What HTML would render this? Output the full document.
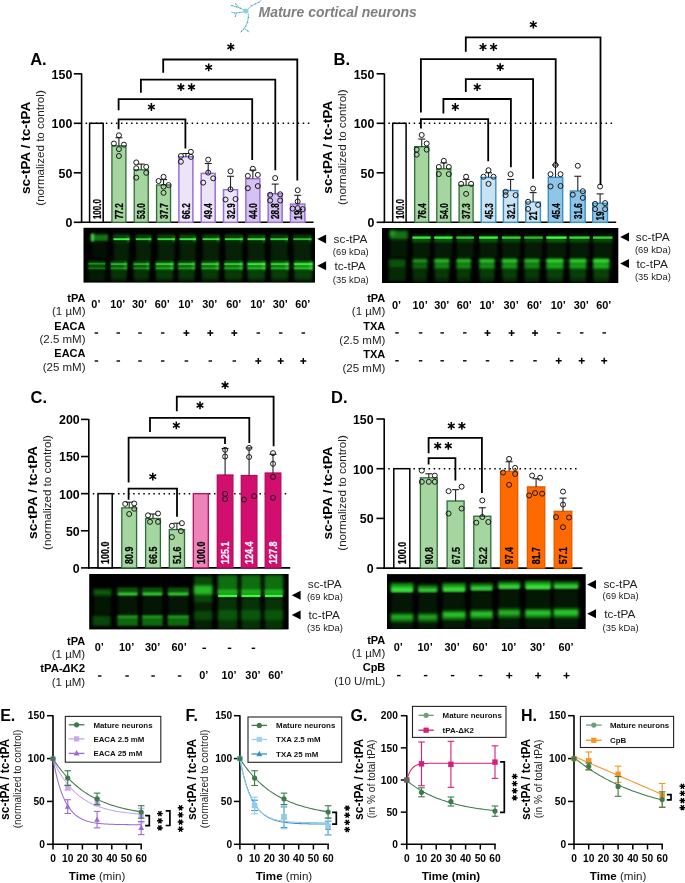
<!DOCTYPE html>
<html><head><meta charset="utf-8"><title>Figure</title>
<style>html,body{margin:0;padding:0;background:#fff;}body{width:685px;height:883px;overflow:hidden;}svg{display:block;font-family:"Liberation Sans",sans-serif;will-change:transform;}</style>
</head><body>
<svg width="685" height="883" viewBox="0 0 685 883">
<defs>
<filter id="b1" x="-50%" y="-50%" width="200%" height="200%"><feGaussianBlur stdDeviation="0.8"/></filter>
<filter id="b2" x="-50%" y="-50%" width="200%" height="200%"><feGaussianBlur stdDeviation="1.6"/></filter>
<filter id="b3" x="-50%" y="-50%" width="200%" height="200%"><feGaussianBlur stdDeviation="2.6"/></filter>
<filter id="b0" x="-50%" y="-50%" width="200%" height="200%"><feGaussianBlur stdDeviation="0.45"/></filter>
</defs>
<rect width="685" height="883" fill="#fff"/>
<g stroke="#78c0d6" fill="none" stroke-width="0.95" stroke-linecap="round"><path d="M248,9 Q251.5,5.5 255,4 Q258,3 260,1.5 Q262.5,0 261,-0.5"/><path d="M243.5,9.6 L239,7.6 L235,6.4 L231,5.3 M239,7.6 L235.6,3.6"/><path d="M243,12 L238.5,12.7 L235,13.1 L231.6,12.3 M236.6,13 L235.3,16.6"/><path d="M248.3,13.6 C248.6,19 247.6,23.5 244.3,28.3 L240.5,32.3 M244.3,28.3 L249,31.8"/></g>
<ellipse cx="245.8" cy="10.9" rx="2.7" ry="2.5" fill="#8ccfe0"/>
<circle cx="251.5" cy="5.6" r="0.65" fill="#4a9ec0"/>
<circle cx="255.3" cy="3.9" r="0.65" fill="#4a9ec0"/>
<circle cx="258.8" cy="2.3" r="0.65" fill="#4a9ec0"/>
<circle cx="240.3" cy="8.2" r="0.65" fill="#4a9ec0"/>
<circle cx="236.4" cy="6.8" r="0.65" fill="#4a9ec0"/>
<circle cx="235.7" cy="3.9" r="0.65" fill="#4a9ec0"/>
<circle cx="232" cy="5.6" r="0.65" fill="#4a9ec0"/>
<circle cx="239.5" cy="12.6" r="0.65" fill="#4a9ec0"/>
<circle cx="234.8" cy="13.1" r="0.65" fill="#4a9ec0"/>
<circle cx="235.4" cy="16.2" r="0.65" fill="#4a9ec0"/>
<circle cx="248.5" cy="17.5" r="0.65" fill="#4a9ec0"/>
<circle cx="247.7" cy="22.5" r="0.65" fill="#4a9ec0"/>
<circle cx="245.8" cy="26.2" r="0.65" fill="#4a9ec0"/>
<circle cx="243.6" cy="29.2" r="0.65" fill="#4a9ec0"/>
<circle cx="241.5" cy="31.2" r="0.65" fill="#4a9ec0"/>
<circle cx="247.6" cy="30.8" r="0.65" fill="#4a9ec0"/>
<text x="258.50" y="16.90" font-size="14" font-weight="bold" font-style="italic" fill="#808080" textLength="158.3" lengthAdjust="spacingAndGlyphs">Mature cortical neurons</text>
<line x1="81.60" y1="73.50" x2="81.60" y2="223.10" stroke="#000" stroke-width="1.6"/>
<line x1="80.80" y1="222.30" x2="313.60" y2="222.30" stroke="#000" stroke-width="1.6"/>
<line x1="73.80" y1="222.30" x2="81.60" y2="222.30" stroke="#000" stroke-width="1.6"/>
<text x="72.30" y="227.20" font-size="12.4" font-weight="bold" text-anchor="end">0</text>
<line x1="73.80" y1="172.80" x2="81.60" y2="172.80" stroke="#000" stroke-width="1.6"/>
<text x="72.30" y="177.70" font-size="12.4" font-weight="bold" text-anchor="end">50</text>
<line x1="73.80" y1="123.30" x2="81.60" y2="123.30" stroke="#000" stroke-width="1.6"/>
<text x="72.30" y="128.20" font-size="12.4" font-weight="bold" text-anchor="end">100</text>
<line x1="73.80" y1="73.80" x2="81.60" y2="73.80" stroke="#000" stroke-width="1.6"/>
<text x="72.30" y="78.70" font-size="12.4" font-weight="bold" text-anchor="end">150</text>
<line x1="85.60" y1="123.30" x2="310.60" y2="123.30" stroke="#000" stroke-width="1.5" stroke-dasharray="1.5 3.55" stroke-linecap="butt"/>
<rect x="89.60" y="123.30" width="13.60" height="99.00" fill="#ffffff" stroke="#000" stroke-width="1.5"/>
<rect x="111.92" y="145.87" width="14.00" height="76.43" fill="#a5d6a0" stroke="#2f6b3a" stroke-width="1.3"/>
<rect x="134.24" y="169.83" width="14.00" height="52.47" fill="#a5d6a0" stroke="#2f6b3a" stroke-width="1.3"/>
<rect x="156.56" y="184.98" width="14.00" height="37.32" fill="#a5d6a0" stroke="#2f6b3a" stroke-width="1.3"/>
<rect x="178.88" y="156.76" width="14.00" height="65.54" fill="#ece5f8" stroke="#9a6fd8" stroke-width="1.5"/>
<rect x="201.20" y="173.39" width="14.00" height="48.91" fill="#ece5f8" stroke="#9a6fd8" stroke-width="1.5"/>
<rect x="223.52" y="189.73" width="14.00" height="32.57" fill="#ece5f8" stroke="#9a6fd8" stroke-width="1.5"/>
<rect x="245.84" y="178.74" width="14.00" height="43.56" fill="#d4c2f0" stroke="#9a6fd8" stroke-width="1.5"/>
<rect x="268.16" y="193.79" width="14.00" height="28.51" fill="#d4c2f0" stroke="#9a6fd8" stroke-width="1.5"/>
<rect x="290.48" y="204.08" width="14.40" height="18.22" fill="#d4c2f0" stroke="#9a6fd8" stroke-width="1.5"/>
<line x1="118.92" y1="145.87" x2="118.92" y2="137.75" stroke="#222" stroke-width="1.1"/>
<line x1="115.42" y1="137.75" x2="122.42" y2="137.75" stroke="#222" stroke-width="1.1"/>
<circle cx="118.92" cy="135.28" r="2.5" fill="none" stroke="#1a1a1a" stroke-width="1.0"/>
<circle cx="113.92" cy="143.50" r="2.5" fill="none" stroke="#1a1a1a" stroke-width="1.0"/>
<circle cx="123.92" cy="144.68" r="2.5" fill="none" stroke="#1a1a1a" stroke-width="1.0"/>
<circle cx="118.92" cy="149.14" r="2.5" fill="none" stroke="#1a1a1a" stroke-width="1.0"/>
<circle cx="118.92" cy="155.97" r="2.5" fill="none" stroke="#1a1a1a" stroke-width="1.0"/>
<line x1="141.24" y1="169.83" x2="141.24" y2="164.09" stroke="#222" stroke-width="1.1"/>
<line x1="137.74" y1="164.09" x2="144.74" y2="164.09" stroke="#222" stroke-width="1.1"/>
<circle cx="136.24" cy="162.41" r="2.5" fill="none" stroke="#1a1a1a" stroke-width="1.0"/>
<circle cx="136.24" cy="168.25" r="2.5" fill="none" stroke="#1a1a1a" stroke-width="1.0"/>
<circle cx="146.24" cy="166.86" r="2.5" fill="none" stroke="#1a1a1a" stroke-width="1.0"/>
<circle cx="146.24" cy="172.80" r="2.5" fill="none" stroke="#1a1a1a" stroke-width="1.0"/>
<circle cx="136.24" cy="177.65" r="2.5" fill="none" stroke="#1a1a1a" stroke-width="1.0"/>
<line x1="163.56" y1="184.98" x2="163.56" y2="179.53" stroke="#222" stroke-width="1.1"/>
<line x1="160.06" y1="179.53" x2="167.06" y2="179.53" stroke="#222" stroke-width="1.1"/>
<circle cx="163.56" cy="176.86" r="2.5" fill="none" stroke="#1a1a1a" stroke-width="1.0"/>
<circle cx="158.56" cy="181.02" r="2.5" fill="none" stroke="#1a1a1a" stroke-width="1.0"/>
<circle cx="168.56" cy="185.08" r="2.5" fill="none" stroke="#1a1a1a" stroke-width="1.0"/>
<circle cx="163.56" cy="186.66" r="2.5" fill="none" stroke="#1a1a1a" stroke-width="1.0"/>
<circle cx="163.56" cy="192.80" r="2.5" fill="none" stroke="#1a1a1a" stroke-width="1.0"/>
<line x1="185.88" y1="156.76" x2="185.88" y2="153.50" stroke="#222" stroke-width="1.1"/>
<line x1="182.38" y1="153.50" x2="189.38" y2="153.50" stroke="#222" stroke-width="1.1"/>
<circle cx="180.88" cy="155.97" r="2.5" fill="none" stroke="#1a1a1a" stroke-width="1.0"/>
<circle cx="190.88" cy="151.81" r="2.5" fill="none" stroke="#1a1a1a" stroke-width="1.0"/>
<circle cx="190.88" cy="156.86" r="2.5" fill="none" stroke="#1a1a1a" stroke-width="1.0"/>
<circle cx="180.88" cy="161.71" r="2.5" fill="none" stroke="#1a1a1a" stroke-width="1.0"/>
<line x1="208.20" y1="173.39" x2="208.20" y2="163.49" stroke="#222" stroke-width="1.1"/>
<line x1="204.70" y1="163.49" x2="211.70" y2="163.49" stroke="#222" stroke-width="1.1"/>
<circle cx="208.20" cy="159.63" r="2.5" fill="none" stroke="#1a1a1a" stroke-width="1.0"/>
<circle cx="208.20" cy="172.60" r="2.5" fill="none" stroke="#1a1a1a" stroke-width="1.0"/>
<circle cx="213.20" cy="178.34" r="2.5" fill="none" stroke="#1a1a1a" stroke-width="1.0"/>
<circle cx="203.20" cy="182.60" r="2.5" fill="none" stroke="#1a1a1a" stroke-width="1.0"/>
<line x1="230.52" y1="189.73" x2="230.52" y2="176.27" stroke="#222" stroke-width="1.1"/>
<line x1="227.02" y1="176.27" x2="234.02" y2="176.27" stroke="#222" stroke-width="1.1"/>
<circle cx="230.52" cy="171.22" r="2.5" fill="none" stroke="#1a1a1a" stroke-width="1.0"/>
<circle cx="230.52" cy="189.33" r="2.5" fill="none" stroke="#1a1a1a" stroke-width="1.0"/>
<circle cx="225.52" cy="199.53" r="2.5" fill="none" stroke="#1a1a1a" stroke-width="1.0"/>
<circle cx="235.52" cy="199.04" r="2.5" fill="none" stroke="#1a1a1a" stroke-width="1.0"/>
<line x1="252.84" y1="178.74" x2="252.84" y2="170.13" stroke="#222" stroke-width="1.1"/>
<line x1="249.34" y1="170.13" x2="256.34" y2="170.13" stroke="#222" stroke-width="1.1"/>
<circle cx="252.84" cy="168.74" r="2.5" fill="none" stroke="#1a1a1a" stroke-width="1.0"/>
<circle cx="247.84" cy="175.87" r="2.5" fill="none" stroke="#1a1a1a" stroke-width="1.0"/>
<circle cx="257.84" cy="174.88" r="2.5" fill="none" stroke="#1a1a1a" stroke-width="1.0"/>
<circle cx="247.84" cy="188.24" r="2.5" fill="none" stroke="#1a1a1a" stroke-width="1.0"/>
<circle cx="257.84" cy="186.07" r="2.5" fill="none" stroke="#1a1a1a" stroke-width="1.0"/>
<line x1="275.16" y1="193.79" x2="275.16" y2="184.09" stroke="#222" stroke-width="1.1"/>
<line x1="271.66" y1="184.09" x2="278.66" y2="184.09" stroke="#222" stroke-width="1.1"/>
<circle cx="275.16" cy="178.05" r="2.5" fill="none" stroke="#1a1a1a" stroke-width="1.0"/>
<circle cx="270.16" cy="194.78" r="2.5" fill="none" stroke="#1a1a1a" stroke-width="1.0"/>
<circle cx="280.16" cy="194.28" r="2.5" fill="none" stroke="#1a1a1a" stroke-width="1.0"/>
<circle cx="270.16" cy="200.52" r="2.5" fill="none" stroke="#1a1a1a" stroke-width="1.0"/>
<circle cx="280.16" cy="200.52" r="2.5" fill="none" stroke="#1a1a1a" stroke-width="1.0"/>
<line x1="297.68" y1="204.08" x2="297.68" y2="195.27" stroke="#222" stroke-width="1.1"/>
<line x1="294.18" y1="195.27" x2="301.18" y2="195.27" stroke="#222" stroke-width="1.1"/>
<circle cx="297.68" cy="190.22" r="2.5" fill="none" stroke="#1a1a1a" stroke-width="1.0"/>
<circle cx="297.68" cy="201.51" r="2.5" fill="none" stroke="#1a1a1a" stroke-width="1.0"/>
<circle cx="292.68" cy="208.64" r="2.5" fill="none" stroke="#1a1a1a" stroke-width="1.0"/>
<circle cx="297.68" cy="208.14" r="2.5" fill="none" stroke="#1a1a1a" stroke-width="1.0"/>
<circle cx="302.68" cy="209.13" r="2.5" fill="none" stroke="#1a1a1a" stroke-width="1.0"/>
<text x="0" y="0" font-size="11.2" font-weight="bold" textLength="19.9" lengthAdjust="spacingAndGlyphs" transform="translate(100.50,219.10) rotate(-90)" stroke="#000" stroke-width="0.25">100.0</text>
<text x="0" y="0" font-size="11.2" font-weight="bold" textLength="15.8" lengthAdjust="spacingAndGlyphs" transform="translate(123.02,219.10) rotate(-90)" stroke="#000" stroke-width="0.25">77.2</text>
<text x="0" y="0" font-size="11.2" font-weight="bold" textLength="15.8" lengthAdjust="spacingAndGlyphs" transform="translate(145.34,219.10) rotate(-90)" stroke="#000" stroke-width="0.25">53.0</text>
<text x="0" y="0" font-size="11.2" font-weight="bold" textLength="15.8" lengthAdjust="spacingAndGlyphs" transform="translate(167.66,219.10) rotate(-90)" stroke="#000" stroke-width="0.25">37.7</text>
<text x="0" y="0" font-size="11.2" font-weight="bold" textLength="15.8" lengthAdjust="spacingAndGlyphs" transform="translate(189.98,219.10) rotate(-90)" stroke="#000" stroke-width="0.25">66.2</text>
<text x="0" y="0" font-size="11.2" font-weight="bold" textLength="15.8" lengthAdjust="spacingAndGlyphs" transform="translate(212.30,219.10) rotate(-90)" stroke="#000" stroke-width="0.25">49.4</text>
<text x="0" y="0" font-size="11.2" font-weight="bold" textLength="15.8" lengthAdjust="spacingAndGlyphs" transform="translate(234.62,219.10) rotate(-90)" stroke="#000" stroke-width="0.25">32.9</text>
<text x="0" y="0" font-size="11.2" font-weight="bold" textLength="15.8" lengthAdjust="spacingAndGlyphs" transform="translate(256.94,219.10) rotate(-90)" stroke="#000" stroke-width="0.25">44.0</text>
<text x="0" y="0" font-size="11.2" font-weight="bold" textLength="15.8" lengthAdjust="spacingAndGlyphs" transform="translate(279.26,219.10) rotate(-90)" stroke="#000" stroke-width="0.25">28.8</text>
<text x="0" y="0" font-size="11.2" font-weight="bold" textLength="11.6" lengthAdjust="spacingAndGlyphs" transform="translate(301.78,219.70) rotate(-90)" stroke="#000" stroke-width="0.25">19.</text>
<polyline points="118.60,129.30 118.60,119.30 185.40,119.30 185.40,148.50" fill="none" stroke="#000" stroke-width="1.8"/>
<path d="M151.40,103.10L151.40,110.90 M148.02,105.05L154.78,108.95 M148.02,108.95L154.78,105.05" stroke="#000" stroke-width="1.55" stroke-linecap="butt" fill="none"/>
<polyline points="118.60,110.30 118.60,99.10 252.20,99.10 252.20,160.10" fill="none" stroke="#000" stroke-width="1.8"/>
<path d="M180.90,83.30L180.90,91.10 M177.52,85.25L184.28,89.15 M177.52,89.15L184.28,85.25" stroke="#000" stroke-width="1.55" stroke-linecap="butt" fill="none"/>
<path d="M191.50,83.30L191.50,91.10 M188.12,85.25L194.88,89.15 M188.12,89.15L194.88,85.25" stroke="#000" stroke-width="1.55" stroke-linecap="butt" fill="none"/>
<polyline points="140.90,92.70 140.90,79.70 275.30,79.70 275.30,170.30" fill="none" stroke="#000" stroke-width="1.8"/>
<path d="M208.70,63.50L208.70,71.30 M205.32,65.45L212.08,69.35 M205.32,69.35L212.08,65.45" stroke="#000" stroke-width="1.55" stroke-linecap="butt" fill="none"/>
<polyline points="163.20,72.80 163.20,59.50 297.30,59.50 297.30,180.50" fill="none" stroke="#000" stroke-width="1.8"/>
<path d="M230.80,42.90L230.80,50.70 M227.42,44.85L234.18,48.75 M227.42,48.75L234.18,44.85" stroke="#000" stroke-width="1.55" stroke-linecap="butt" fill="none"/>
<text x="30.20" y="65.20" font-size="16.5" font-weight="bold">A.</text>
<text x="0" y="0" font-size="13.7" font-weight="bold" text-anchor="middle" textLength="92.4" lengthAdjust="spacingAndGlyphs" transform="translate(29.60,147.90) rotate(-90)">sc-tPA / tc-tPA</text>
<text x="0" y="0" font-size="11.4" text-anchor="middle" fill="#222" textLength="115.5" lengthAdjust="spacingAndGlyphs" transform="translate(43.90,148.00) rotate(-90)">(normalized to control)</text>
<line x1="384.40" y1="73.50" x2="384.40" y2="223.10" stroke="#000" stroke-width="1.6"/>
<line x1="383.60" y1="222.30" x2="616.20" y2="222.30" stroke="#000" stroke-width="1.6"/>
<line x1="376.60" y1="222.30" x2="384.40" y2="222.30" stroke="#000" stroke-width="1.6"/>
<text x="374.40" y="227.20" font-size="12.4" font-weight="bold" text-anchor="end">0</text>
<line x1="376.60" y1="172.80" x2="384.40" y2="172.80" stroke="#000" stroke-width="1.6"/>
<text x="374.40" y="177.70" font-size="12.4" font-weight="bold" text-anchor="end">50</text>
<line x1="376.60" y1="123.30" x2="384.40" y2="123.30" stroke="#000" stroke-width="1.6"/>
<text x="374.40" y="128.20" font-size="12.4" font-weight="bold" text-anchor="end">100</text>
<line x1="376.60" y1="73.80" x2="384.40" y2="73.80" stroke="#000" stroke-width="1.6"/>
<text x="374.40" y="78.70" font-size="12.4" font-weight="bold" text-anchor="end">150</text>
<line x1="388.40" y1="123.30" x2="613.20" y2="123.30" stroke="#000" stroke-width="1.5" stroke-dasharray="1.5 3.55" stroke-linecap="butt"/>
<rect x="392.70" y="123.30" width="13.40" height="99.00" fill="#ffffff" stroke="#000" stroke-width="1.5"/>
<rect x="414.70" y="146.66" width="14.00" height="75.64" fill="#a5d6a0" stroke="#2f6b3a" stroke-width="1.3"/>
<rect x="436.80" y="168.84" width="14.00" height="53.46" fill="#a5d6a0" stroke="#2f6b3a" stroke-width="1.3"/>
<rect x="459.10" y="185.37" width="14.00" height="36.93" fill="#a5d6a0" stroke="#2f6b3a" stroke-width="1.3"/>
<rect x="481.20" y="177.45" width="14.60" height="44.85" fill="#c8e3f4" stroke="#3b8fc9" stroke-width="1.4"/>
<rect x="503.40" y="190.52" width="14.40" height="31.78" fill="#c8e3f4" stroke="#3b8fc9" stroke-width="1.4"/>
<rect x="525.80" y="202.01" width="14.60" height="20.29" fill="#c8e3f4" stroke="#3b8fc9" stroke-width="1.4"/>
<rect x="548.30" y="177.35" width="14.40" height="44.95" fill="#8fc6e8" stroke="#3b8fc9" stroke-width="1.4"/>
<rect x="570.40" y="191.02" width="14.80" height="31.28" fill="#8fc6e8" stroke="#3b8fc9" stroke-width="1.4"/>
<rect x="592.70" y="203.29" width="14.80" height="19.01" fill="#8fc6e8" stroke="#3b8fc9" stroke-width="1.4"/>
<line x1="421.70" y1="146.66" x2="421.70" y2="139.04" stroke="#222" stroke-width="1.1"/>
<line x1="418.20" y1="139.04" x2="425.20" y2="139.04" stroke="#222" stroke-width="1.1"/>
<circle cx="421.70" cy="134.98" r="2.5" fill="none" stroke="#1a1a1a" stroke-width="1.0"/>
<circle cx="426.70" cy="143.50" r="2.5" fill="none" stroke="#1a1a1a" stroke-width="1.0"/>
<circle cx="416.70" cy="149.63" r="2.5" fill="none" stroke="#1a1a1a" stroke-width="1.0"/>
<circle cx="426.70" cy="149.63" r="2.5" fill="none" stroke="#1a1a1a" stroke-width="1.0"/>
<circle cx="416.70" cy="154.68" r="2.5" fill="none" stroke="#1a1a1a" stroke-width="1.0"/>
<line x1="443.80" y1="168.84" x2="443.80" y2="162.90" stroke="#222" stroke-width="1.1"/>
<line x1="440.30" y1="162.90" x2="447.30" y2="162.90" stroke="#222" stroke-width="1.1"/>
<circle cx="443.80" cy="160.82" r="2.5" fill="none" stroke="#1a1a1a" stroke-width="1.0"/>
<circle cx="438.80" cy="166.96" r="2.5" fill="none" stroke="#1a1a1a" stroke-width="1.0"/>
<circle cx="448.80" cy="166.96" r="2.5" fill="none" stroke="#1a1a1a" stroke-width="1.0"/>
<circle cx="438.80" cy="174.09" r="2.5" fill="none" stroke="#1a1a1a" stroke-width="1.0"/>
<circle cx="448.80" cy="174.09" r="2.5" fill="none" stroke="#1a1a1a" stroke-width="1.0"/>
<line x1="466.10" y1="185.37" x2="466.10" y2="179.43" stroke="#222" stroke-width="1.1"/>
<line x1="462.60" y1="179.43" x2="469.60" y2="179.43" stroke="#222" stroke-width="1.1"/>
<circle cx="466.10" cy="176.76" r="2.5" fill="none" stroke="#1a1a1a" stroke-width="1.0"/>
<circle cx="461.10" cy="183.89" r="2.5" fill="none" stroke="#1a1a1a" stroke-width="1.0"/>
<circle cx="471.10" cy="183.89" r="2.5" fill="none" stroke="#1a1a1a" stroke-width="1.0"/>
<circle cx="466.10" cy="193.89" r="2.5" fill="none" stroke="#1a1a1a" stroke-width="1.0"/>
<line x1="488.50" y1="177.45" x2="488.50" y2="172.80" stroke="#222" stroke-width="1.1"/>
<line x1="485.00" y1="172.80" x2="492.00" y2="172.80" stroke="#222" stroke-width="1.1"/>
<circle cx="488.50" cy="170.23" r="2.5" fill="none" stroke="#1a1a1a" stroke-width="1.0"/>
<circle cx="483.50" cy="176.76" r="2.5" fill="none" stroke="#1a1a1a" stroke-width="1.0"/>
<circle cx="493.50" cy="176.76" r="2.5" fill="none" stroke="#1a1a1a" stroke-width="1.0"/>
<circle cx="488.50" cy="183.89" r="2.5" fill="none" stroke="#1a1a1a" stroke-width="1.0"/>
<line x1="510.60" y1="190.52" x2="510.60" y2="179.43" stroke="#222" stroke-width="1.1"/>
<line x1="507.10" y1="179.43" x2="514.10" y2="179.43" stroke="#222" stroke-width="1.1"/>
<circle cx="510.60" cy="174.19" r="2.5" fill="none" stroke="#1a1a1a" stroke-width="1.0"/>
<circle cx="505.60" cy="195.17" r="2.5" fill="none" stroke="#1a1a1a" stroke-width="1.0"/>
<circle cx="515.60" cy="195.17" r="2.5" fill="none" stroke="#1a1a1a" stroke-width="1.0"/>
<circle cx="505.60" cy="191.81" r="2.5" fill="none" stroke="#1a1a1a" stroke-width="1.0"/>
<line x1="533.10" y1="202.01" x2="533.10" y2="192.60" stroke="#222" stroke-width="1.1"/>
<line x1="529.60" y1="192.60" x2="536.60" y2="192.60" stroke="#222" stroke-width="1.1"/>
<circle cx="533.10" cy="188.64" r="2.5" fill="none" stroke="#1a1a1a" stroke-width="1.0"/>
<circle cx="528.10" cy="201.81" r="2.5" fill="none" stroke="#1a1a1a" stroke-width="1.0"/>
<circle cx="538.10" cy="204.88" r="2.5" fill="none" stroke="#1a1a1a" stroke-width="1.0"/>
<circle cx="528.10" cy="208.94" r="2.5" fill="none" stroke="#1a1a1a" stroke-width="1.0"/>
<line x1="555.50" y1="177.35" x2="555.50" y2="164.98" stroke="#222" stroke-width="1.1"/>
<line x1="552.00" y1="164.98" x2="559.00" y2="164.98" stroke="#222" stroke-width="1.1"/>
<circle cx="555.50" cy="164.98" r="2.5" fill="none" stroke="#1a1a1a" stroke-width="1.0"/>
<circle cx="550.50" cy="174.19" r="2.5" fill="none" stroke="#1a1a1a" stroke-width="1.0"/>
<circle cx="560.50" cy="174.19" r="2.5" fill="none" stroke="#1a1a1a" stroke-width="1.0"/>
<circle cx="550.50" cy="186.46" r="2.5" fill="none" stroke="#1a1a1a" stroke-width="1.0"/>
<circle cx="560.50" cy="185.97" r="2.5" fill="none" stroke="#1a1a1a" stroke-width="1.0"/>
<line x1="577.80" y1="191.02" x2="577.80" y2="176.27" stroke="#222" stroke-width="1.1"/>
<line x1="574.30" y1="176.27" x2="581.30" y2="176.27" stroke="#222" stroke-width="1.1"/>
<circle cx="577.80" cy="165.77" r="2.5" fill="none" stroke="#1a1a1a" stroke-width="1.0"/>
<circle cx="572.80" cy="194.68" r="2.5" fill="none" stroke="#1a1a1a" stroke-width="1.0"/>
<circle cx="582.80" cy="191.21" r="2.5" fill="none" stroke="#1a1a1a" stroke-width="1.0"/>
<circle cx="582.80" cy="197.85" r="2.5" fill="none" stroke="#1a1a1a" stroke-width="1.0"/>
<line x1="600.10" y1="203.29" x2="600.10" y2="193.89" stroke="#222" stroke-width="1.1"/>
<line x1="596.60" y1="193.89" x2="603.60" y2="193.89" stroke="#222" stroke-width="1.1"/>
<circle cx="600.10" cy="186.46" r="2.5" fill="none" stroke="#1a1a1a" stroke-width="1.0"/>
<circle cx="595.10" cy="203.89" r="2.5" fill="none" stroke="#1a1a1a" stroke-width="1.0"/>
<circle cx="605.10" cy="203.09" r="2.5" fill="none" stroke="#1a1a1a" stroke-width="1.0"/>
<circle cx="595.10" cy="209.13" r="2.5" fill="none" stroke="#1a1a1a" stroke-width="1.0"/>
<circle cx="605.10" cy="209.13" r="2.5" fill="none" stroke="#1a1a1a" stroke-width="1.0"/>
<text x="0" y="0" font-size="11.2" font-weight="bold" textLength="19.9" lengthAdjust="spacingAndGlyphs" transform="translate(403.50,219.10) rotate(-90)" stroke="#000" stroke-width="0.25">100.0</text>
<text x="0" y="0" font-size="11.2" font-weight="bold" textLength="15.8" lengthAdjust="spacingAndGlyphs" transform="translate(425.80,219.10) rotate(-90)" stroke="#000" stroke-width="0.25">76.4</text>
<text x="0" y="0" font-size="11.2" font-weight="bold" textLength="15.8" lengthAdjust="spacingAndGlyphs" transform="translate(447.90,219.10) rotate(-90)" stroke="#000" stroke-width="0.25">54.0</text>
<text x="0" y="0" font-size="11.2" font-weight="bold" textLength="15.8" lengthAdjust="spacingAndGlyphs" transform="translate(470.20,219.10) rotate(-90)" stroke="#000" stroke-width="0.25">37.3</text>
<text x="0" y="0" font-size="11.2" font-weight="bold" textLength="15.8" lengthAdjust="spacingAndGlyphs" transform="translate(492.60,219.10) rotate(-90)" stroke="#000" stroke-width="0.25">45.3</text>
<text x="0" y="0" font-size="11.2" font-weight="bold" textLength="15.8" lengthAdjust="spacingAndGlyphs" transform="translate(514.70,219.10) rotate(-90)" stroke="#000" stroke-width="0.25">32.1</text>
<text x="0" y="0" font-size="11.2" font-weight="bold" textLength="9.2" lengthAdjust="spacingAndGlyphs" transform="translate(537.20,220.30) rotate(-90)" stroke="#000" stroke-width="0.25">21</text>
<text x="0" y="0" font-size="11.2" font-weight="bold" textLength="15.8" lengthAdjust="spacingAndGlyphs" transform="translate(559.60,219.10) rotate(-90)" stroke="#000" stroke-width="0.25">45.4</text>
<text x="0" y="0" font-size="11.2" font-weight="bold" textLength="15.8" lengthAdjust="spacingAndGlyphs" transform="translate(581.90,219.10) rotate(-90)" stroke="#000" stroke-width="0.25">31.6</text>
<text x="0" y="0" font-size="11.2" font-weight="bold" textLength="9.2" lengthAdjust="spacingAndGlyphs" transform="translate(604.20,220.50) rotate(-90)" stroke="#000" stroke-width="0.25">19</text>
<polyline points="420.90,128.40 420.90,119.20 488.20,119.20 488.20,161.20" fill="none" stroke="#000" stroke-width="1.8"/>
<path d="M455.30,103.10L455.30,110.90 M451.92,105.05L458.68,108.95 M451.92,108.95L458.68,105.05" stroke="#000" stroke-width="1.55" stroke-linecap="butt" fill="none"/>
<polyline points="443.40,113.50 443.40,99.00 510.90,99.00 510.90,167.30" fill="none" stroke="#000" stroke-width="1.8"/>
<path d="M477.20,83.20L477.20,91.00 M473.82,85.15L480.58,89.05 M473.82,89.05L480.58,85.15" stroke="#000" stroke-width="1.55" stroke-linecap="butt" fill="none"/>
<polyline points="465.80,91.90 465.80,79.10 533.10,79.10 533.10,178.80" fill="none" stroke="#000" stroke-width="1.8"/>
<path d="M500.20,63.30L500.20,71.10 M496.82,65.25L503.58,69.15 M496.82,69.15L503.58,65.25" stroke="#000" stroke-width="1.55" stroke-linecap="butt" fill="none"/>
<polyline points="420.90,112.60 420.90,59.20 555.70,59.20 555.70,163.90" fill="none" stroke="#000" stroke-width="1.8"/>
<path d="M483.00,43.10L483.00,50.90 M479.62,45.05L486.38,48.95 M479.62,48.95L486.38,45.05" stroke="#000" stroke-width="1.55" stroke-linecap="butt" fill="none"/>
<path d="M493.60,43.10L493.60,50.90 M490.22,45.05L496.98,48.95 M490.22,48.95L496.98,45.05" stroke="#000" stroke-width="1.55" stroke-linecap="butt" fill="none"/>
<polyline points="465.80,51.80 465.80,37.30 600.50,37.30 600.50,184.90" fill="none" stroke="#000" stroke-width="1.8"/>
<path d="M533.30,20.70L533.30,28.50 M529.92,22.65L536.68,26.55 M529.92,26.55L536.68,22.65" stroke="#000" stroke-width="1.55" stroke-linecap="butt" fill="none"/>
<text x="333.60" y="65.00" font-size="16.5" font-weight="bold">B.</text>
<text x="0" y="0" font-size="13.7" font-weight="bold" text-anchor="middle" textLength="93.0" lengthAdjust="spacingAndGlyphs" transform="translate(332.10,147.20) rotate(-90)">sc-tPA / tc-tPA</text>
<text x="0" y="0" font-size="11.4" text-anchor="middle" fill="#222" textLength="115.5" lengthAdjust="spacingAndGlyphs" transform="translate(346.00,147.20) rotate(-90)">(normalized to control)</text>
<line x1="88.80" y1="418.90" x2="88.80" y2="568.70" stroke="#000" stroke-width="1.6"/>
<line x1="88.00" y1="567.90" x2="290.20" y2="567.90" stroke="#000" stroke-width="1.6"/>
<line x1="81.00" y1="567.90" x2="88.80" y2="567.90" stroke="#000" stroke-width="1.6"/>
<text x="79.70" y="572.80" font-size="12.4" font-weight="bold" text-anchor="end">0</text>
<line x1="81.00" y1="530.77" x2="88.80" y2="530.77" stroke="#000" stroke-width="1.6"/>
<text x="79.70" y="535.67" font-size="12.4" font-weight="bold" text-anchor="end">50</text>
<line x1="81.00" y1="493.65" x2="88.80" y2="493.65" stroke="#000" stroke-width="1.6"/>
<text x="79.70" y="498.55" font-size="12.4" font-weight="bold" text-anchor="end">100</text>
<line x1="81.00" y1="456.52" x2="88.80" y2="456.52" stroke="#000" stroke-width="1.6"/>
<text x="79.70" y="461.42" font-size="12.4" font-weight="bold" text-anchor="end">150</text>
<line x1="81.00" y1="419.40" x2="88.80" y2="419.40" stroke="#000" stroke-width="1.6"/>
<text x="79.70" y="424.30" font-size="12.4" font-weight="bold" text-anchor="end">200</text>
<line x1="92.80" y1="493.65" x2="287.20" y2="493.65" stroke="#000" stroke-width="1.5" stroke-dasharray="1.5 3.55" stroke-linecap="butt"/>
<rect x="98.00" y="493.65" width="14.20" height="74.25" fill="#ffffff" stroke="#000" stroke-width="1.5"/>
<rect x="121.80" y="507.83" width="14.80" height="60.07" fill="#a5d6a0" stroke="#2f6b3a" stroke-width="1.3"/>
<rect x="145.60" y="518.52" width="14.80" height="49.38" fill="#a5d6a0" stroke="#2f6b3a" stroke-width="1.3"/>
<rect x="169.30" y="529.59" width="15.20" height="38.31" fill="#a5d6a0" stroke="#2f6b3a" stroke-width="1.3"/>
<rect x="193.30" y="493.65" width="15.00" height="74.25" fill="#ec84b9" stroke="#b8105f" stroke-width="1.3"/>
<rect x="217.30" y="475.01" width="15.60" height="92.89" fill="#d20f6f" stroke="#b00d5c" stroke-width="1.3"/>
<rect x="241.30" y="475.53" width="15.60" height="92.37" fill="#d20f6f" stroke="#b00d5c" stroke-width="1.3"/>
<rect x="265.20" y="473.01" width="15.60" height="94.89" fill="#d20f6f" stroke="#b00d5c" stroke-width="1.3"/>
<line x1="129.20" y1="507.83" x2="129.20" y2="502.19" stroke="#222" stroke-width="1.1"/>
<line x1="125.70" y1="502.19" x2="132.70" y2="502.19" stroke="#222" stroke-width="1.1"/>
<circle cx="125.20" cy="503.90" r="2.5" fill="none" stroke="#1a1a1a" stroke-width="1.0"/>
<circle cx="134.20" cy="503.53" r="2.5" fill="none" stroke="#1a1a1a" stroke-width="1.0"/>
<circle cx="134.20" cy="508.72" r="2.5" fill="none" stroke="#1a1a1a" stroke-width="1.0"/>
<circle cx="129.20" cy="513.99" r="2.5" fill="none" stroke="#1a1a1a" stroke-width="1.0"/>
<line x1="153.00" y1="518.52" x2="153.00" y2="513.99" stroke="#222" stroke-width="1.1"/>
<line x1="149.50" y1="513.99" x2="156.50" y2="513.99" stroke="#222" stroke-width="1.1"/>
<circle cx="148.00" cy="515.33" r="2.5" fill="none" stroke="#1a1a1a" stroke-width="1.0"/>
<circle cx="158.00" cy="513.47" r="2.5" fill="none" stroke="#1a1a1a" stroke-width="1.0"/>
<circle cx="158.00" cy="521.87" r="2.5" fill="none" stroke="#1a1a1a" stroke-width="1.0"/>
<circle cx="150.00" cy="521.87" r="2.5" fill="none" stroke="#1a1a1a" stroke-width="1.0"/>
<line x1="176.90" y1="529.59" x2="176.90" y2="523.20" stroke="#222" stroke-width="1.1"/>
<line x1="173.40" y1="523.20" x2="180.40" y2="523.20" stroke="#222" stroke-width="1.1"/>
<circle cx="171.90" cy="525.80" r="2.5" fill="none" stroke="#1a1a1a" stroke-width="1.0"/>
<circle cx="181.90" cy="523.20" r="2.5" fill="none" stroke="#1a1a1a" stroke-width="1.0"/>
<circle cx="171.90" cy="537.09" r="2.5" fill="none" stroke="#1a1a1a" stroke-width="1.0"/>
<circle cx="180.90" cy="531.07" r="2.5" fill="none" stroke="#1a1a1a" stroke-width="1.0"/>
<line x1="225.10" y1="475.01" x2="225.10" y2="448.58" stroke="#222" stroke-width="1.1"/>
<line x1="221.60" y1="448.58" x2="228.60" y2="448.58" stroke="#222" stroke-width="1.1"/>
<circle cx="225.10" cy="449.84" r="2.5" fill="none" stroke="#1a1a1a" stroke-width="1.0"/>
<circle cx="225.10" cy="456.52" r="2.5" fill="none" stroke="#1a1a1a" stroke-width="1.0"/>
<circle cx="225.10" cy="493.87" r="2.5" fill="none" stroke="#1a1a1a" stroke-width="1.0"/>
<circle cx="225.10" cy="499.07" r="2.5" fill="none" stroke="#1a1a1a" stroke-width="1.0"/>
<line x1="249.10" y1="475.53" x2="249.10" y2="447.91" stroke="#222" stroke-width="1.1"/>
<line x1="245.60" y1="447.91" x2="252.60" y2="447.91" stroke="#222" stroke-width="1.1"/>
<circle cx="249.10" cy="447.91" r="2.5" fill="none" stroke="#1a1a1a" stroke-width="1.0"/>
<circle cx="249.10" cy="456.97" r="2.5" fill="none" stroke="#1a1a1a" stroke-width="1.0"/>
<circle cx="244.10" cy="499.59" r="2.5" fill="none" stroke="#1a1a1a" stroke-width="1.0"/>
<circle cx="254.10" cy="496.17" r="2.5" fill="none" stroke="#1a1a1a" stroke-width="1.0"/>
<line x1="273.00" y1="473.01" x2="273.00" y2="454.30" stroke="#222" stroke-width="1.1"/>
<line x1="269.50" y1="454.30" x2="276.50" y2="454.30" stroke="#222" stroke-width="1.1"/>
<circle cx="273.00" cy="453.11" r="2.5" fill="none" stroke="#1a1a1a" stroke-width="1.0"/>
<circle cx="273.00" cy="463.80" r="2.5" fill="none" stroke="#1a1a1a" stroke-width="1.0"/>
<circle cx="273.00" cy="476.87" r="2.5" fill="none" stroke="#1a1a1a" stroke-width="1.0"/>
<circle cx="273.00" cy="497.81" r="2.5" fill="none" stroke="#1a1a1a" stroke-width="1.0"/>
<text x="0" y="0" font-size="11.4" font-weight="bold" textLength="22.4" lengthAdjust="spacingAndGlyphs" transform="translate(109.30,563.90) rotate(-90)" stroke="#000" stroke-width="0.25">100.0</text>
<text x="0" y="0" font-size="11.4" font-weight="bold" textLength="17.2" lengthAdjust="spacingAndGlyphs" transform="translate(133.40,563.90) rotate(-90)" stroke="#000" stroke-width="0.25">80.9</text>
<text x="0" y="0" font-size="11.4" font-weight="bold" textLength="17.2" lengthAdjust="spacingAndGlyphs" transform="translate(157.20,563.90) rotate(-90)" stroke="#000" stroke-width="0.25">66.5</text>
<text x="0" y="0" font-size="11.4" font-weight="bold" textLength="17.2" lengthAdjust="spacingAndGlyphs" transform="translate(181.10,563.90) rotate(-90)" stroke="#000" stroke-width="0.25">51.6</text>
<text x="0" y="0" font-size="11.4" font-weight="bold" textLength="22.4" lengthAdjust="spacingAndGlyphs" transform="translate(205.00,563.90) rotate(-90)" stroke="#000" stroke-width="0.25">100.0</text>
<text x="0" y="0" font-size="11.4" font-weight="bold" fill="#fff" textLength="22.4" lengthAdjust="spacingAndGlyphs" transform="translate(229.30,563.90) rotate(-90)" stroke="#fff" stroke-width="0.25">125.1</text>
<text x="0" y="0" font-size="11.4" font-weight="bold" fill="#fff" textLength="22.4" lengthAdjust="spacingAndGlyphs" transform="translate(253.30,563.90) rotate(-90)" stroke="#fff" stroke-width="0.25">124.4</text>
<text x="0" y="0" font-size="11.4" font-weight="bold" fill="#fff" textLength="22.4" lengthAdjust="spacingAndGlyphs" transform="translate(277.20,563.90) rotate(-90)" stroke="#fff" stroke-width="0.25">127.8</text>
<polyline points="128.60,499.80 128.60,488.60 177.00,488.60 177.00,516.80" fill="none" stroke="#000" stroke-width="1.8"/>
<path d="M152.80,472.70L152.80,480.50 M149.42,474.65L156.18,478.55 M149.42,478.55L156.18,474.65" stroke="#000" stroke-width="1.55" stroke-linecap="butt" fill="none"/>
<polyline points="128.60,482.50 128.60,437.60 225.00,437.60 225.00,444.00" fill="none" stroke="#000" stroke-width="1.8"/>
<path d="M176.30,421.50L176.30,429.30 M172.92,423.45L179.68,427.35 M172.92,427.35L179.68,423.45" stroke="#000" stroke-width="1.55" stroke-linecap="butt" fill="none"/>
<polyline points="150.00,432.00 150.00,417.80 249.30,417.80 249.30,443.00" fill="none" stroke="#000" stroke-width="1.8"/>
<path d="M200.00,401.40L200.00,409.20 M196.62,403.35L203.38,407.25 M196.62,407.25L203.38,403.35" stroke="#000" stroke-width="1.55" stroke-linecap="butt" fill="none"/>
<polyline points="176.80,411.20 176.80,396.60 273.60,396.60 273.60,446.30" fill="none" stroke="#000" stroke-width="1.8"/>
<path d="M225.10,381.30L225.10,389.10 M221.72,383.25L228.48,387.15 M221.72,387.15L228.48,383.25" stroke="#000" stroke-width="1.55" stroke-linecap="butt" fill="none"/>
<text x="30.60" y="403.20" font-size="16.5" font-weight="bold">C.</text>
<text x="0" y="0" font-size="13.7" font-weight="bold" text-anchor="middle" textLength="93.0" lengthAdjust="spacingAndGlyphs" transform="translate(37.20,492.50) rotate(-90)">sc-tPA / tc-tPA</text>
<text x="0" y="0" font-size="11.4" text-anchor="middle" fill="#222" textLength="114.8" lengthAdjust="spacingAndGlyphs" transform="translate(50.70,492.50) rotate(-90)">(normalized to control)</text>
<line x1="384.20" y1="418.50" x2="384.20" y2="568.90" stroke="#000" stroke-width="1.6"/>
<line x1="383.40" y1="568.10" x2="582.40" y2="568.10" stroke="#000" stroke-width="1.6"/>
<line x1="376.40" y1="568.10" x2="384.20" y2="568.10" stroke="#000" stroke-width="1.6"/>
<text x="373.60" y="573.00" font-size="12.4" font-weight="bold" text-anchor="end">0</text>
<line x1="376.40" y1="518.40" x2="384.20" y2="518.40" stroke="#000" stroke-width="1.6"/>
<text x="373.60" y="523.30" font-size="12.4" font-weight="bold" text-anchor="end">50</text>
<line x1="376.40" y1="468.70" x2="384.20" y2="468.70" stroke="#000" stroke-width="1.6"/>
<text x="373.60" y="473.60" font-size="12.4" font-weight="bold" text-anchor="end">100</text>
<line x1="376.40" y1="419.00" x2="384.20" y2="419.00" stroke="#000" stroke-width="1.6"/>
<text x="373.60" y="423.90" font-size="12.4" font-weight="bold" text-anchor="end">150</text>
<line x1="388.20" y1="468.70" x2="579.40" y2="468.70" stroke="#000" stroke-width="1.5" stroke-dasharray="1.5 3.55" stroke-linecap="butt"/>
<rect x="393.80" y="468.70" width="16.00" height="99.40" fill="#ffffff" stroke="#000" stroke-width="1.5"/>
<rect x="420.40" y="477.84" width="16.80" height="90.26" fill="#a5d6a0" stroke="#2f6b3a" stroke-width="1.3"/>
<rect x="447.10" y="501.00" width="17.00" height="67.10" fill="#a5d6a0" stroke="#2f6b3a" stroke-width="1.3"/>
<rect x="473.80" y="516.21" width="17.00" height="51.89" fill="#a5d6a0" stroke="#2f6b3a" stroke-width="1.3"/>
<rect x="500.50" y="471.28" width="17.20" height="96.82" fill="#ff6a00" stroke="#e25a00" stroke-width="1.3"/>
<rect x="527.40" y="486.89" width="17.40" height="81.21" fill="#ff6a00" stroke="#e25a00" stroke-width="1.3"/>
<rect x="554.20" y="511.34" width="17.60" height="56.76" fill="#ff6a00" stroke="#e25a00" stroke-width="1.3"/>
<line x1="428.80" y1="477.84" x2="428.80" y2="473.77" stroke="#222" stroke-width="1.1"/>
<line x1="425.30" y1="473.77" x2="432.30" y2="473.77" stroke="#222" stroke-width="1.1"/>
<circle cx="421.80" cy="470.59" r="2.5" fill="none" stroke="#1a1a1a" stroke-width="1.0"/>
<circle cx="421.80" cy="481.82" r="2.5" fill="none" stroke="#1a1a1a" stroke-width="1.0"/>
<circle cx="428.80" cy="481.82" r="2.5" fill="none" stroke="#1a1a1a" stroke-width="1.0"/>
<circle cx="434.80" cy="475.66" r="2.5" fill="none" stroke="#1a1a1a" stroke-width="1.0"/>
<circle cx="434.80" cy="481.82" r="2.5" fill="none" stroke="#1a1a1a" stroke-width="1.0"/>
<line x1="455.60" y1="501.00" x2="455.60" y2="489.67" stroke="#222" stroke-width="1.1"/>
<line x1="452.10" y1="489.67" x2="459.10" y2="489.67" stroke="#222" stroke-width="1.1"/>
<circle cx="448.60" cy="491.16" r="2.5" fill="none" stroke="#1a1a1a" stroke-width="1.0"/>
<circle cx="461.60" cy="486.69" r="2.5" fill="none" stroke="#1a1a1a" stroke-width="1.0"/>
<circle cx="448.60" cy="513.53" r="2.5" fill="none" stroke="#1a1a1a" stroke-width="1.0"/>
<circle cx="461.60" cy="508.56" r="2.5" fill="none" stroke="#1a1a1a" stroke-width="1.0"/>
<line x1="482.30" y1="516.21" x2="482.30" y2="507.76" stroke="#222" stroke-width="1.1"/>
<line x1="478.80" y1="507.76" x2="485.80" y2="507.76" stroke="#222" stroke-width="1.1"/>
<circle cx="482.30" cy="500.41" r="2.5" fill="none" stroke="#1a1a1a" stroke-width="1.0"/>
<circle cx="476.30" cy="522.67" r="2.5" fill="none" stroke="#1a1a1a" stroke-width="1.0"/>
<circle cx="482.30" cy="517.01" r="2.5" fill="none" stroke="#1a1a1a" stroke-width="1.0"/>
<circle cx="488.30" cy="521.98" r="2.5" fill="none" stroke="#1a1a1a" stroke-width="1.0"/>
<line x1="509.10" y1="471.28" x2="509.10" y2="461.74" stroke="#222" stroke-width="1.1"/>
<line x1="505.60" y1="461.74" x2="512.60" y2="461.74" stroke="#222" stroke-width="1.1"/>
<circle cx="509.10" cy="458.86" r="2.5" fill="none" stroke="#1a1a1a" stroke-width="1.0"/>
<circle cx="503.10" cy="472.58" r="2.5" fill="none" stroke="#1a1a1a" stroke-width="1.0"/>
<circle cx="515.10" cy="467.90" r="2.5" fill="none" stroke="#1a1a1a" stroke-width="1.0"/>
<circle cx="515.10" cy="473.97" r="2.5" fill="none" stroke="#1a1a1a" stroke-width="1.0"/>
<circle cx="509.10" cy="484.80" r="2.5" fill="none" stroke="#1a1a1a" stroke-width="1.0"/>
<line x1="536.10" y1="486.89" x2="536.10" y2="478.74" stroke="#222" stroke-width="1.1"/>
<line x1="532.60" y1="478.74" x2="539.60" y2="478.74" stroke="#222" stroke-width="1.1"/>
<circle cx="532.10" cy="475.56" r="2.5" fill="none" stroke="#1a1a1a" stroke-width="1.0"/>
<circle cx="540.10" cy="477.75" r="2.5" fill="none" stroke="#1a1a1a" stroke-width="1.0"/>
<circle cx="529.10" cy="495.44" r="2.5" fill="none" stroke="#1a1a1a" stroke-width="1.0"/>
<circle cx="535.10" cy="493.05" r="2.5" fill="none" stroke="#1a1a1a" stroke-width="1.0"/>
<circle cx="542.10" cy="493.65" r="2.5" fill="none" stroke="#1a1a1a" stroke-width="1.0"/>
<line x1="563.00" y1="511.34" x2="563.00" y2="498.12" stroke="#222" stroke-width="1.1"/>
<line x1="559.50" y1="498.12" x2="566.50" y2="498.12" stroke="#222" stroke-width="1.1"/>
<circle cx="563.00" cy="491.56" r="2.5" fill="none" stroke="#1a1a1a" stroke-width="1.0"/>
<circle cx="563.00" cy="504.58" r="2.5" fill="none" stroke="#1a1a1a" stroke-width="1.0"/>
<circle cx="556.00" cy="517.11" r="2.5" fill="none" stroke="#1a1a1a" stroke-width="1.0"/>
<circle cx="569.00" cy="517.51" r="2.5" fill="none" stroke="#1a1a1a" stroke-width="1.0"/>
<circle cx="563.00" cy="527.15" r="2.5" fill="none" stroke="#1a1a1a" stroke-width="1.0"/>
<text x="0" y="0" font-size="11.4" font-weight="bold" textLength="22.4" lengthAdjust="spacingAndGlyphs" transform="translate(406.00,564.20) rotate(-90)" stroke="#000" stroke-width="0.25">100.0</text>
<text x="0" y="0" font-size="11.4" font-weight="bold" textLength="17.2" lengthAdjust="spacingAndGlyphs" transform="translate(433.00,564.20) rotate(-90)" stroke="#000" stroke-width="0.25">90.8</text>
<text x="0" y="0" font-size="11.4" font-weight="bold" textLength="17.2" lengthAdjust="spacingAndGlyphs" transform="translate(459.80,564.20) rotate(-90)" stroke="#000" stroke-width="0.25">67.5</text>
<text x="0" y="0" font-size="11.4" font-weight="bold" textLength="17.2" lengthAdjust="spacingAndGlyphs" transform="translate(486.50,564.20) rotate(-90)" stroke="#000" stroke-width="0.25">52.2</text>
<text x="0" y="0" font-size="11.4" font-weight="bold" textLength="17.2" lengthAdjust="spacingAndGlyphs" transform="translate(513.30,564.20) rotate(-90)" stroke="#000" stroke-width="0.25">97.4</text>
<text x="0" y="0" font-size="11.4" font-weight="bold" textLength="17.2" lengthAdjust="spacingAndGlyphs" transform="translate(540.30,564.20) rotate(-90)" stroke="#000" stroke-width="0.25">81.7</text>
<text x="0" y="0" font-size="11.4" font-weight="bold" textLength="17.2" lengthAdjust="spacingAndGlyphs" transform="translate(567.20,564.20) rotate(-90)" stroke="#000" stroke-width="0.25">57.1</text>
<polyline points="428.60,464.40 428.60,458.20 455.40,458.20 455.40,480.50" fill="none" stroke="#000" stroke-width="1.8"/>
<path d="M437.70,441.90L437.70,449.70 M434.32,443.85L441.08,447.75 M434.32,447.75L441.08,443.85" stroke="#000" stroke-width="1.55" stroke-linecap="butt" fill="none"/>
<path d="M448.30,441.90L448.30,449.70 M444.92,443.85L451.68,447.75 M444.92,447.75L451.68,443.85" stroke="#000" stroke-width="1.55" stroke-linecap="butt" fill="none"/>
<polyline points="428.60,453.20 428.60,437.80 481.90,437.80 481.90,493.00" fill="none" stroke="#000" stroke-width="1.8"/>
<path d="M451.30,422.00L451.30,429.80 M447.92,423.95L454.68,427.85 M447.92,427.85L454.68,423.95" stroke="#000" stroke-width="1.55" stroke-linecap="butt" fill="none"/>
<path d="M461.90,422.00L461.90,429.80 M458.52,423.95L465.28,427.85 M458.52,427.85L465.28,423.95" stroke="#000" stroke-width="1.55" stroke-linecap="butt" fill="none"/>
<text x="331.00" y="403.30" font-size="16.5" font-weight="bold">D.</text>
<text x="0" y="0" font-size="13.7" font-weight="bold" text-anchor="middle" textLength="93.0" lengthAdjust="spacingAndGlyphs" transform="translate(332.20,493.00) rotate(-90)">sc-tPA / tc-tPA</text>
<text x="0" y="0" font-size="11.4" text-anchor="middle" fill="#222" textLength="115.5" lengthAdjust="spacingAndGlyphs" transform="translate(346.00,493.00) rotate(-90)">(normalized to control)</text>
<text x="85.50" y="301.90" font-size="11" font-weight="bold" text-anchor="end">tPA</text>
<text x="85.50" y="315.00" font-size="11.5" text-anchor="end" fill="#222">(1 µM)</text>
<text x="95.90" y="308.40" font-size="10.9" font-weight="bold" text-anchor="middle">0’</text>
<text x="117.80" y="308.40" font-size="10.9" font-weight="bold" text-anchor="middle">10’</text>
<text x="139.50" y="308.40" font-size="10.9" font-weight="bold" text-anchor="middle">30’</text>
<text x="162.20" y="308.40" font-size="10.9" font-weight="bold" text-anchor="middle">60’</text>
<text x="185.90" y="308.40" font-size="10.9" font-weight="bold" text-anchor="middle">10’</text>
<text x="209.80" y="308.40" font-size="10.9" font-weight="bold" text-anchor="middle">30’</text>
<text x="233.80" y="308.40" font-size="10.9" font-weight="bold" text-anchor="middle">60’</text>
<text x="257.80" y="308.40" font-size="10.9" font-weight="bold" text-anchor="middle">10’</text>
<text x="280.20" y="308.40" font-size="10.9" font-weight="bold" text-anchor="middle">30’</text>
<text x="302.80" y="308.40" font-size="10.9" font-weight="bold" text-anchor="middle">60’</text>
<text x="85.50" y="329.60" font-size="11" font-weight="bold" text-anchor="end">EACA</text>
<text x="85.50" y="343.20" font-size="11.5" text-anchor="end" fill="#222">(2.5 mM)</text>
<path d="M94.65,333.00H98.15" stroke="#000" stroke-width="1.4" fill="none"/>
<path d="M116.55,333.00H120.05" stroke="#000" stroke-width="1.4" fill="none"/>
<path d="M138.25,333.00H141.75" stroke="#000" stroke-width="1.4" fill="none"/>
<path d="M160.95,333.00H164.45" stroke="#000" stroke-width="1.4" fill="none"/>
<path d="M183.40,333.00H189.40M186.40,330.00V336.00" stroke="#000" stroke-width="1.45" fill="none"/>
<path d="M207.30,333.00H213.30M210.30,330.00V336.00" stroke="#000" stroke-width="1.45" fill="none"/>
<path d="M231.30,333.00H237.30M234.30,330.00V336.00" stroke="#000" stroke-width="1.45" fill="none"/>
<path d="M256.55,333.00H260.05" stroke="#000" stroke-width="1.4" fill="none"/>
<path d="M278.95,333.00H282.45" stroke="#000" stroke-width="1.4" fill="none"/>
<path d="M301.55,333.00H305.05" stroke="#000" stroke-width="1.4" fill="none"/>
<text x="85.50" y="356.90" font-size="11" font-weight="bold" text-anchor="end">EACA</text>
<text x="85.50" y="370.50" font-size="11.5" text-anchor="end" fill="#222">(25 mM)</text>
<path d="M94.65,361.00H98.15" stroke="#000" stroke-width="1.4" fill="none"/>
<path d="M116.55,361.00H120.05" stroke="#000" stroke-width="1.4" fill="none"/>
<path d="M138.25,361.00H141.75" stroke="#000" stroke-width="1.4" fill="none"/>
<path d="M160.95,361.00H164.45" stroke="#000" stroke-width="1.4" fill="none"/>
<path d="M184.65,361.00H188.15" stroke="#000" stroke-width="1.4" fill="none"/>
<path d="M208.55,361.00H212.05" stroke="#000" stroke-width="1.4" fill="none"/>
<path d="M232.55,361.00H236.05" stroke="#000" stroke-width="1.4" fill="none"/>
<path d="M255.30,361.00H261.30M258.30,358.00V364.00" stroke="#000" stroke-width="1.45" fill="none"/>
<path d="M277.70,361.00H283.70M280.70,358.00V364.00" stroke="#000" stroke-width="1.45" fill="none"/>
<path d="M300.30,361.00H306.30M303.30,358.00V364.00" stroke="#000" stroke-width="1.45" fill="none"/>
<text x="385.30" y="301.90" font-size="11" font-weight="bold" text-anchor="end">tPA</text>
<text x="385.30" y="315.30" font-size="11.5" text-anchor="end" fill="#222">(1 µM)</text>
<text x="396.50" y="308.60" font-size="10.9" font-weight="bold" text-anchor="middle">0’</text>
<text x="420.10" y="308.60" font-size="10.9" font-weight="bold" text-anchor="middle">10’</text>
<text x="441.70" y="308.60" font-size="10.9" font-weight="bold" text-anchor="middle">30’</text>
<text x="464.30" y="308.60" font-size="10.9" font-weight="bold" text-anchor="middle">60’</text>
<text x="487.00" y="308.60" font-size="10.9" font-weight="bold" text-anchor="middle">10’</text>
<text x="511.10" y="308.60" font-size="10.9" font-weight="bold" text-anchor="middle">30’</text>
<text x="534.50" y="308.60" font-size="10.9" font-weight="bold" text-anchor="middle">60’</text>
<text x="558.20" y="308.60" font-size="10.9" font-weight="bold" text-anchor="middle">10’</text>
<text x="581.20" y="308.60" font-size="10.9" font-weight="bold" text-anchor="middle">30’</text>
<text x="603.70" y="308.60" font-size="10.9" font-weight="bold" text-anchor="middle">60’</text>
<text x="385.30" y="330.00" font-size="11" font-weight="bold" text-anchor="end">TXA</text>
<text x="385.30" y="343.80" font-size="11.5" text-anchor="end" fill="#222">(2.5 mM)</text>
<path d="M395.25,332.90H398.75" stroke="#000" stroke-width="1.4" fill="none"/>
<path d="M418.85,332.90H422.35" stroke="#000" stroke-width="1.4" fill="none"/>
<path d="M440.45,332.90H443.95" stroke="#000" stroke-width="1.4" fill="none"/>
<path d="M463.05,332.90H466.55" stroke="#000" stroke-width="1.4" fill="none"/>
<path d="M484.50,332.90H490.50M487.50,329.90V335.90" stroke="#000" stroke-width="1.45" fill="none"/>
<path d="M508.60,332.90H514.60M511.60,329.90V335.90" stroke="#000" stroke-width="1.45" fill="none"/>
<path d="M532.00,332.90H538.00M535.00,329.90V335.90" stroke="#000" stroke-width="1.45" fill="none"/>
<path d="M556.95,332.90H560.45" stroke="#000" stroke-width="1.4" fill="none"/>
<path d="M579.95,332.90H583.45" stroke="#000" stroke-width="1.4" fill="none"/>
<path d="M602.45,332.90H605.95" stroke="#000" stroke-width="1.4" fill="none"/>
<text x="385.30" y="357.90" font-size="11" font-weight="bold" text-anchor="end">TXA</text>
<text x="385.30" y="371.50" font-size="11.5" text-anchor="end" fill="#222">(25 mM)</text>
<path d="M395.25,360.80H398.75" stroke="#000" stroke-width="1.4" fill="none"/>
<path d="M418.85,360.80H422.35" stroke="#000" stroke-width="1.4" fill="none"/>
<path d="M440.45,360.80H443.95" stroke="#000" stroke-width="1.4" fill="none"/>
<path d="M463.05,360.80H466.55" stroke="#000" stroke-width="1.4" fill="none"/>
<path d="M485.75,360.80H489.25" stroke="#000" stroke-width="1.4" fill="none"/>
<path d="M509.85,360.80H513.35" stroke="#000" stroke-width="1.4" fill="none"/>
<path d="M533.25,360.80H536.75" stroke="#000" stroke-width="1.4" fill="none"/>
<path d="M555.70,360.80H561.70M558.70,357.80V363.80" stroke="#000" stroke-width="1.45" fill="none"/>
<path d="M578.70,360.80H584.70M581.70,357.80V363.80" stroke="#000" stroke-width="1.45" fill="none"/>
<path d="M601.20,360.80H607.20M604.20,357.80V363.80" stroke="#000" stroke-width="1.45" fill="none"/>
<text x="85.20" y="644.60" font-size="11" font-weight="bold" text-anchor="end">tPA</text>
<text x="85.20" y="657.60" font-size="11.5" text-anchor="end" fill="#222">(1 µM)</text>
<text x="99.20" y="651.40" font-size="10.9" font-weight="bold" text-anchor="middle">0’</text>
<text x="126.60" y="651.40" font-size="10.9" font-weight="bold" text-anchor="middle">10’</text>
<text x="152.60" y="651.40" font-size="10.9" font-weight="bold" text-anchor="middle">30’</text>
<text x="179.10" y="651.40" font-size="10.9" font-weight="bold" text-anchor="middle">60’</text>
<path d="M202.45,648.30H205.95" stroke="#000" stroke-width="1.4" fill="none"/>
<path d="M227.75,648.30H231.25" stroke="#000" stroke-width="1.4" fill="none"/>
<path d="M251.65,648.30H255.15" stroke="#000" stroke-width="1.4" fill="none"/>
<text x="85.20" y="671.90" font-size="11" font-weight="bold" text-anchor="end" textLength="45" lengthAdjust="spacingAndGlyphs">tPA-<tspan font-style="italic">Δ</tspan>K2</text>
<text x="85.20" y="685.90" font-size="11.5" text-anchor="end" fill="#222">(1 µM)</text>
<path d="M97.95,676.00H101.45" stroke="#000" stroke-width="1.4" fill="none"/>
<path d="M125.35,676.00H128.85" stroke="#000" stroke-width="1.4" fill="none"/>
<path d="M151.35,676.00H154.85" stroke="#000" stroke-width="1.4" fill="none"/>
<path d="M177.85,676.00H181.35" stroke="#000" stroke-width="1.4" fill="none"/>
<text x="203.70" y="679.20" font-size="10.9" font-weight="bold" text-anchor="middle">0’</text>
<text x="229.00" y="679.20" font-size="10.9" font-weight="bold" text-anchor="middle">10’</text>
<text x="252.90" y="679.20" font-size="10.9" font-weight="bold" text-anchor="middle">30’</text>
<text x="275.80" y="679.20" font-size="10.9" font-weight="bold" text-anchor="middle">60’</text>
<text x="385.30" y="644.30" font-size="11" font-weight="bold" text-anchor="end">tPA</text>
<text x="385.30" y="657.20" font-size="11.5" text-anchor="end" fill="#222">(1 µM)</text>
<text x="398.30" y="650.60" font-size="10.9" font-weight="bold" text-anchor="middle">0’</text>
<text x="425.10" y="650.60" font-size="10.9" font-weight="bold" text-anchor="middle">10’</text>
<text x="452.10" y="650.60" font-size="10.9" font-weight="bold" text-anchor="middle">30’</text>
<text x="480.10" y="650.60" font-size="10.9" font-weight="bold" text-anchor="middle">60’</text>
<text x="508.80" y="650.60" font-size="10.9" font-weight="bold" text-anchor="middle">10’</text>
<text x="537.60" y="650.60" font-size="10.9" font-weight="bold" text-anchor="middle">30’</text>
<text x="566.00" y="650.60" font-size="10.9" font-weight="bold" text-anchor="middle">60’</text>
<text x="385.30" y="670.80" font-size="11" font-weight="bold" text-anchor="end">CpB</text>
<text x="385.30" y="684.90" font-size="11.5" text-anchor="end" fill="#222">(10 U/mL)</text>
<path d="M397.05,675.60H400.55" stroke="#000" stroke-width="1.4" fill="none"/>
<path d="M423.85,675.60H427.35" stroke="#000" stroke-width="1.4" fill="none"/>
<path d="M450.85,675.60H454.35" stroke="#000" stroke-width="1.4" fill="none"/>
<path d="M478.85,675.60H482.35" stroke="#000" stroke-width="1.4" fill="none"/>
<path d="M506.30,675.60H512.30M509.30,672.60V678.60" stroke="#000" stroke-width="1.45" fill="none"/>
<path d="M535.10,675.60H541.10M538.10,672.60V678.60" stroke="#000" stroke-width="1.45" fill="none"/>
<path d="M563.50,675.60H569.50M566.50,672.60V678.60" stroke="#000" stroke-width="1.45" fill="none"/>
<path d="M317.30,239.00L326.10,234.50L326.10,243.50Z" fill="#000"/>
<path d="M317.30,265.70L326.10,261.20L326.10,270.20Z" fill="#000"/>
<text x="333.60" y="243.10" font-size="11.8" fill="#222">sc-tPA</text>
<text x="332.80" y="255.20" font-size="9.4" fill="#222">(69 kDa)</text>
<text x="334.40" y="269.80" font-size="11.8" fill="#222">tc-tPA</text>
<text x="332.80" y="282.50" font-size="9.4" fill="#222">(35 kDa)</text>
<path d="M620.20,236.90L629.00,232.40L629.00,241.40Z" fill="#000"/>
<path d="M620.20,263.50L629.00,259.00L629.00,268.00Z" fill="#000"/>
<text x="635.80" y="240.90" font-size="11.8" fill="#222">sc-tPA</text>
<text x="635.00" y="252.60" font-size="9.4" fill="#222">(69 kDa)</text>
<text x="636.60" y="267.80" font-size="11.8" fill="#222">tc-tPA</text>
<text x="635.00" y="280.30" font-size="9.4" fill="#222">(35 kDa)</text>
<path d="M291.80,595.30L300.60,590.80L300.60,599.80Z" fill="#000"/>
<path d="M291.80,614.90L300.60,610.40L300.60,619.40Z" fill="#000"/>
<text x="307.80" y="587.60" font-size="11.8" fill="#222">sc-tPA</text>
<text x="307.00" y="599.60" font-size="9.4" fill="#222">(69 kDa)</text>
<text x="308.60" y="619.20" font-size="11.8" fill="#222">tc-tPA</text>
<text x="307.00" y="631.20" font-size="9.4" fill="#222">(35 kDa)</text>
<path d="M587.20,584.40L596.00,579.90L596.00,588.90Z" fill="#000"/>
<path d="M587.20,613.80L596.00,609.30L596.00,618.30Z" fill="#000"/>
<text x="603.40" y="587.80" font-size="11.8" fill="#222">sc-tPA</text>
<text x="602.60" y="599.40" font-size="9.4" fill="#222">(69 kDa)</text>
<text x="604.20" y="617.80" font-size="11.8" fill="#222">tc-tPA</text>
<text x="602.60" y="630.50" font-size="9.4" fill="#222">(35 kDa)</text>
<clipPath id="clip_bA"><rect x="83.5" y="227.8" width="231.50" height="54.80"/></clipPath>
<rect x="83.5" y="227.8" width="231.50" height="54.80" fill="#000"/>
<g clip-path="url(#clip_bA)">
<rect x="91.40" y="234.30" width="16.70" height="6.70" fill="#1a9a1a" opacity="0.750" filter="url(#b1)"/>
<rect x="90.90" y="233.50" width="3.00" height="8.00" fill="#4cff4c" opacity="0.800" filter="url(#b1)"/>
<rect x="91.90" y="241.00" width="15.70" height="17.00" fill="#0b5e0b" opacity="0.160" filter="url(#b2)"/>
<rect x="88.00" y="261.20" width="17.90" height="8.80" fill="#16b016" opacity="0.413" filter="url(#b1)"/>
<rect x="88.40" y="262.80" width="16.70" height="1.80" fill="#3cff3c" opacity="0.385" filter="url(#b0)"/>
<rect x="88.40" y="267.60" width="16.70" height="1.60" fill="#3cff3c" opacity="0.248" filter="url(#b0)"/>
<rect x="88.40" y="271.00" width="16.70" height="10.00" fill="#0b5e0b" opacity="0.300" filter="url(#b2)"/>
<rect x="113.70" y="241.20" width="15.50" height="20.30" fill="#0a420a" opacity="0.500" filter="url(#b2)"/>
<rect x="111.14" y="270.00" width="15.50" height="11.10" fill="#0b520b" opacity="0.495" filter="url(#b2)"/>
<rect x="113.20" y="234.40" width="16.50" height="4.50" fill="#15a015" opacity="0.475" filter="url(#b1)"/>
<rect x="113.20" y="240.00" width="16.50" height="3.20" fill="#0d700d" opacity="0.285" filter="url(#b1)"/>
<rect x="113.40" y="238.20" width="16.10" height="2.00" fill="#3cff3c" opacity="0.950" filter="url(#b0)"/>
<rect x="127.00" y="236.70" width="2.40" height="5.00" fill="#44ff44" opacity="0.427" filter="url(#b1)"/>
<rect x="110.34" y="261.40" width="17.10" height="8.60" fill="#1cc01c" opacity="0.520" filter="url(#b1)"/>
<rect x="110.84" y="263.20" width="16.10" height="1.80" fill="#4dff4d" opacity="0.488" filter="url(#b0)"/>
<rect x="110.84" y="267.60" width="16.10" height="1.60" fill="#3dee3d" opacity="0.325" filter="url(#b0)"/>
<rect x="110.64" y="270.00" width="16.50" height="8.00" fill="#0c6a0c" opacity="0.195" filter="url(#b2)"/>
<rect x="124.24" y="261.70" width="2.60" height="8.30" fill="#55ff55" opacity="0.293" filter="url(#b1)"/>
<rect x="136.00" y="241.20" width="15.00" height="20.30" fill="#0a420a" opacity="0.500" filter="url(#b2)"/>
<rect x="133.89" y="270.00" width="15.00" height="11.10" fill="#0b520b" opacity="0.486" filter="url(#b2)"/>
<rect x="135.50" y="234.40" width="16.00" height="4.50" fill="#15a015" opacity="0.400" filter="url(#b1)"/>
<rect x="135.50" y="240.00" width="16.00" height="3.20" fill="#0d700d" opacity="0.240" filter="url(#b1)"/>
<rect x="135.70" y="238.20" width="15.60" height="2.00" fill="#3cff3c" opacity="0.800" filter="url(#b0)"/>
<rect x="148.80" y="236.70" width="2.40" height="5.00" fill="#44ff44" opacity="0.360" filter="url(#b1)"/>
<rect x="133.09" y="261.40" width="16.60" height="8.60" fill="#1cc01c" opacity="0.496" filter="url(#b1)"/>
<rect x="133.59" y="263.20" width="15.60" height="1.80" fill="#4dff4d" opacity="0.465" filter="url(#b0)"/>
<rect x="133.59" y="267.60" width="15.60" height="1.60" fill="#3dee3d" opacity="0.310" filter="url(#b0)"/>
<rect x="133.39" y="270.00" width="16.00" height="8.00" fill="#0c6a0c" opacity="0.186" filter="url(#b2)"/>
<rect x="146.49" y="261.70" width="2.60" height="8.30" fill="#55ff55" opacity="0.279" filter="url(#b1)"/>
<rect x="157.80" y="241.20" width="16.90" height="20.30" fill="#0a420a" opacity="0.500" filter="url(#b2)"/>
<rect x="156.13" y="270.00" width="16.90" height="11.10" fill="#0b520b" opacity="0.540" filter="url(#b2)"/>
<rect x="157.30" y="234.40" width="17.90" height="4.50" fill="#15a015" opacity="0.425" filter="url(#b1)"/>
<rect x="157.30" y="240.00" width="17.90" height="3.20" fill="#0d700d" opacity="0.255" filter="url(#b1)"/>
<rect x="157.50" y="238.20" width="17.50" height="2.00" fill="#3cff3c" opacity="0.850" filter="url(#b0)"/>
<rect x="172.50" y="236.70" width="2.40" height="5.00" fill="#44ff44" opacity="0.383" filter="url(#b1)"/>
<rect x="155.33" y="261.40" width="18.50" height="8.60" fill="#1cc01c" opacity="0.640" filter="url(#b1)"/>
<rect x="155.83" y="263.20" width="17.50" height="1.80" fill="#4dff4d" opacity="0.600" filter="url(#b0)"/>
<rect x="155.83" y="267.60" width="17.50" height="1.60" fill="#3dee3d" opacity="0.400" filter="url(#b0)"/>
<rect x="155.63" y="270.00" width="17.90" height="8.00" fill="#0c6a0c" opacity="0.240" filter="url(#b2)"/>
<rect x="170.63" y="261.70" width="2.60" height="8.30" fill="#55ff55" opacity="0.360" filter="url(#b1)"/>
<rect x="179.80" y="241.20" width="15.90" height="20.30" fill="#0a420a" opacity="0.500" filter="url(#b2)"/>
<rect x="178.58" y="270.00" width="15.90" height="11.10" fill="#0b520b" opacity="0.516" filter="url(#b2)"/>
<rect x="179.30" y="234.40" width="16.90" height="4.50" fill="#15a015" opacity="0.450" filter="url(#b1)"/>
<rect x="179.30" y="240.00" width="16.90" height="3.20" fill="#0d700d" opacity="0.270" filter="url(#b1)"/>
<rect x="179.50" y="238.20" width="16.50" height="2.00" fill="#3cff3c" opacity="0.900" filter="url(#b0)"/>
<rect x="193.50" y="236.70" width="2.40" height="5.00" fill="#44ff44" opacity="0.405" filter="url(#b1)"/>
<rect x="177.78" y="261.40" width="17.50" height="8.60" fill="#1cc01c" opacity="0.576" filter="url(#b1)"/>
<rect x="178.28" y="263.20" width="16.50" height="1.80" fill="#4dff4d" opacity="0.540" filter="url(#b0)"/>
<rect x="178.28" y="267.60" width="16.50" height="1.60" fill="#3dee3d" opacity="0.360" filter="url(#b0)"/>
<rect x="178.08" y="270.00" width="16.90" height="8.00" fill="#0c6a0c" opacity="0.216" filter="url(#b2)"/>
<rect x="192.08" y="261.70" width="2.60" height="8.30" fill="#55ff55" opacity="0.324" filter="url(#b1)"/>
<rect x="202.80" y="241.20" width="16.40" height="20.30" fill="#0a420a" opacity="0.500" filter="url(#b2)"/>
<rect x="202.02" y="270.00" width="16.40" height="11.10" fill="#0b520b" opacity="0.534" filter="url(#b2)"/>
<rect x="202.30" y="234.40" width="17.40" height="4.50" fill="#15a015" opacity="0.425" filter="url(#b1)"/>
<rect x="202.30" y="240.00" width="17.40" height="3.20" fill="#0d700d" opacity="0.255" filter="url(#b1)"/>
<rect x="202.50" y="238.20" width="17.00" height="2.00" fill="#3cff3c" opacity="0.850" filter="url(#b0)"/>
<rect x="217.00" y="236.70" width="2.40" height="5.00" fill="#44ff44" opacity="0.383" filter="url(#b1)"/>
<rect x="201.22" y="261.40" width="18.00" height="8.60" fill="#1cc01c" opacity="0.624" filter="url(#b1)"/>
<rect x="201.72" y="263.20" width="17.00" height="1.80" fill="#4dff4d" opacity="0.585" filter="url(#b0)"/>
<rect x="201.72" y="267.60" width="17.00" height="1.60" fill="#3dee3d" opacity="0.390" filter="url(#b0)"/>
<rect x="201.52" y="270.00" width="17.40" height="8.00" fill="#0c6a0c" opacity="0.234" filter="url(#b2)"/>
<rect x="216.02" y="261.70" width="2.60" height="8.30" fill="#55ff55" opacity="0.351" filter="url(#b1)"/>
<rect x="225.10" y="241.20" width="17.50" height="20.30" fill="#0a420a" opacity="0.500" filter="url(#b2)"/>
<rect x="224.77" y="270.00" width="17.50" height="11.10" fill="#0b520b" opacity="0.540" filter="url(#b2)"/>
<rect x="224.60" y="234.40" width="18.50" height="4.50" fill="#15a015" opacity="0.425" filter="url(#b1)"/>
<rect x="224.60" y="240.00" width="18.50" height="3.20" fill="#0d700d" opacity="0.255" filter="url(#b1)"/>
<rect x="224.80" y="238.20" width="18.10" height="2.00" fill="#3cff3c" opacity="0.850" filter="url(#b0)"/>
<rect x="240.40" y="236.70" width="2.40" height="5.00" fill="#44ff44" opacity="0.383" filter="url(#b1)"/>
<rect x="223.97" y="261.40" width="19.10" height="8.60" fill="#1cc01c" opacity="0.640" filter="url(#b1)"/>
<rect x="224.47" y="263.20" width="18.10" height="1.80" fill="#4dff4d" opacity="0.600" filter="url(#b0)"/>
<rect x="224.47" y="267.60" width="18.10" height="1.60" fill="#3dee3d" opacity="0.400" filter="url(#b0)"/>
<rect x="224.27" y="270.00" width="18.50" height="8.00" fill="#0c6a0c" opacity="0.240" filter="url(#b2)"/>
<rect x="239.87" y="261.70" width="2.60" height="8.30" fill="#55ff55" opacity="0.360" filter="url(#b1)"/>
<rect x="247.80" y="241.20" width="17.00" height="20.30" fill="#0a420a" opacity="0.500" filter="url(#b2)"/>
<rect x="247.91" y="270.00" width="17.00" height="11.10" fill="#0b520b" opacity="0.585" filter="url(#b2)"/>
<rect x="247.30" y="234.40" width="18.00" height="4.50" fill="#15a015" opacity="0.450" filter="url(#b1)"/>
<rect x="247.30" y="240.00" width="18.00" height="3.20" fill="#0d700d" opacity="0.270" filter="url(#b1)"/>
<rect x="247.50" y="238.20" width="17.60" height="2.00" fill="#3cff3c" opacity="0.900" filter="url(#b0)"/>
<rect x="262.60" y="236.70" width="2.40" height="5.00" fill="#44ff44" opacity="0.405" filter="url(#b1)"/>
<rect x="247.11" y="261.40" width="18.60" height="8.60" fill="#1cc01c" opacity="0.760" filter="url(#b1)"/>
<rect x="247.61" y="263.20" width="17.60" height="1.80" fill="#4dff4d" opacity="0.712" filter="url(#b0)"/>
<rect x="247.61" y="267.60" width="17.60" height="1.60" fill="#3dee3d" opacity="0.475" filter="url(#b0)"/>
<rect x="247.41" y="270.00" width="18.00" height="8.00" fill="#0c6a0c" opacity="0.285" filter="url(#b2)"/>
<rect x="262.51" y="261.70" width="2.60" height="8.30" fill="#55ff55" opacity="0.427" filter="url(#b1)"/>
<rect x="270.70" y="241.20" width="17.00" height="20.30" fill="#0a420a" opacity="0.500" filter="url(#b2)"/>
<rect x="271.26" y="270.00" width="17.00" height="11.10" fill="#0b520b" opacity="0.555" filter="url(#b2)"/>
<rect x="270.20" y="234.40" width="18.00" height="4.50" fill="#15a015" opacity="0.400" filter="url(#b1)"/>
<rect x="270.20" y="240.00" width="18.00" height="3.20" fill="#0d700d" opacity="0.240" filter="url(#b1)"/>
<rect x="270.40" y="238.20" width="17.60" height="2.00" fill="#3cff3c" opacity="0.800" filter="url(#b0)"/>
<rect x="285.50" y="236.70" width="2.40" height="5.00" fill="#44ff44" opacity="0.360" filter="url(#b1)"/>
<rect x="270.46" y="261.40" width="18.60" height="8.60" fill="#1cc01c" opacity="0.680" filter="url(#b1)"/>
<rect x="270.96" y="263.20" width="17.60" height="1.80" fill="#4dff4d" opacity="0.637" filter="url(#b0)"/>
<rect x="270.96" y="267.60" width="17.60" height="1.60" fill="#3dee3d" opacity="0.425" filter="url(#b0)"/>
<rect x="270.76" y="270.00" width="18.00" height="8.00" fill="#0c6a0c" opacity="0.255" filter="url(#b2)"/>
<rect x="285.86" y="261.70" width="2.60" height="8.30" fill="#55ff55" opacity="0.383" filter="url(#b1)"/>
<rect x="293.50" y="241.20" width="17.70" height="20.30" fill="#0a420a" opacity="0.500" filter="url(#b2)"/>
<rect x="294.50" y="270.00" width="17.70" height="11.10" fill="#0b520b" opacity="0.600" filter="url(#b2)"/>
<rect x="293.00" y="234.40" width="18.70" height="4.50" fill="#15a015" opacity="0.350" filter="url(#b1)"/>
<rect x="293.00" y="240.00" width="18.70" height="3.20" fill="#0d700d" opacity="0.210" filter="url(#b1)"/>
<rect x="293.20" y="238.20" width="18.30" height="2.00" fill="#3cff3c" opacity="0.700" filter="url(#b0)"/>
<rect x="309.00" y="236.70" width="2.40" height="5.00" fill="#44ff44" opacity="0.315" filter="url(#b1)"/>
<rect x="293.70" y="261.40" width="19.30" height="8.60" fill="#1cc01c" opacity="0.800" filter="url(#b1)"/>
<rect x="294.20" y="263.20" width="18.30" height="1.80" fill="#4dff4d" opacity="0.750" filter="url(#b0)"/>
<rect x="294.20" y="267.60" width="18.30" height="1.60" fill="#3dee3d" opacity="0.500" filter="url(#b0)"/>
<rect x="294.00" y="270.00" width="18.70" height="8.00" fill="#0c6a0c" opacity="0.300" filter="url(#b2)"/>
<rect x="309.80" y="261.70" width="2.60" height="8.30" fill="#55ff55" opacity="0.450" filter="url(#b1)"/>
</g>
<clipPath id="clip_bB"><rect x="382.0" y="228.0" width="236.30" height="55.00"/></clipPath>
<rect x="382.0" y="228.0" width="236.30" height="55.00" fill="#000"/>
<g clip-path="url(#clip_bB)">
<rect x="389.80" y="230.50" width="18.00" height="9.00" fill="#1a9a1a" opacity="0.750" filter="url(#b2)"/>
<rect x="389.80" y="230.50" width="5.00" height="5.50" fill="#2ccc2c" opacity="0.500" filter="url(#b2)"/>
<rect x="390.30" y="240.00" width="17.00" height="17.00" fill="#0b4a0b" opacity="0.350" filter="url(#b2)"/>
<rect x="388.80" y="259.00" width="17.00" height="9.00" fill="#16a016" opacity="0.500" filter="url(#b2)"/>
<rect x="388.80" y="268.00" width="17.00" height="13.00" fill="#0b5e0b" opacity="0.450" filter="url(#b2)"/>
<rect x="412.80" y="242.60" width="17.40" height="15.00" fill="#0a3c0a" opacity="0.450" filter="url(#b2)"/>
<rect x="413.00" y="270.60" width="14.00" height="11.40" fill="#0b500b" opacity="0.465" filter="url(#b2)"/>
<rect x="412.30" y="234.10" width="18.40" height="3.10" fill="#0f800f" opacity="0.315" filter="url(#b1)"/>
<rect x="412.30" y="238.20" width="18.40" height="4.40" fill="#15a015" opacity="0.495" filter="url(#b1)"/>
<rect x="412.40" y="236.40" width="18.20" height="2.40" fill="#3cff3c" opacity="0.900" filter="url(#b0)"/>
<rect x="412.50" y="258.60" width="15.00" height="11.00" fill="#1cb81c" opacity="0.468" filter="url(#b2)"/>
<rect x="412.80" y="259.20" width="14.40" height="3.20" fill="#3cf03c" opacity="0.413" filter="url(#b1)"/>
<rect x="412.80" y="265.20" width="14.40" height="2.00" fill="#33dd33" opacity="0.193" filter="url(#b1)"/>
<rect x="412.80" y="269.60" width="14.40" height="8.00" fill="#0c6a0c" opacity="0.193" filter="url(#b2)"/>
<rect x="434.60" y="242.60" width="17.50" height="15.00" fill="#0a3c0a" opacity="0.450" filter="url(#b2)"/>
<rect x="434.80" y="270.60" width="14.10" height="11.40" fill="#0b500b" opacity="0.525" filter="url(#b2)"/>
<rect x="434.10" y="234.10" width="18.50" height="3.10" fill="#0f800f" opacity="0.332" filter="url(#b1)"/>
<rect x="434.10" y="238.20" width="18.50" height="4.40" fill="#15a015" opacity="0.522" filter="url(#b1)"/>
<rect x="434.20" y="236.40" width="18.30" height="2.40" fill="#3cff3c" opacity="0.950" filter="url(#b0)"/>
<rect x="434.30" y="258.60" width="15.10" height="11.00" fill="#1cb81c" opacity="0.637" filter="url(#b2)"/>
<rect x="434.60" y="259.20" width="14.50" height="3.20" fill="#3cf03c" opacity="0.562" filter="url(#b1)"/>
<rect x="434.60" y="265.20" width="14.50" height="2.00" fill="#33dd33" opacity="0.262" filter="url(#b1)"/>
<rect x="434.60" y="269.60" width="14.50" height="8.00" fill="#0c6a0c" opacity="0.262" filter="url(#b2)"/>
<rect x="456.80" y="242.60" width="16.90" height="15.00" fill="#0a3c0a" opacity="0.450" filter="url(#b2)"/>
<rect x="457.00" y="270.60" width="13.50" height="11.40" fill="#0b500b" opacity="0.525" filter="url(#b2)"/>
<rect x="456.30" y="234.10" width="17.90" height="3.10" fill="#0f800f" opacity="0.262" filter="url(#b1)"/>
<rect x="456.30" y="238.20" width="17.90" height="4.40" fill="#15a015" opacity="0.413" filter="url(#b1)"/>
<rect x="456.40" y="236.40" width="17.70" height="2.40" fill="#3cff3c" opacity="0.750" filter="url(#b0)"/>
<rect x="456.50" y="258.60" width="14.50" height="11.00" fill="#1cb81c" opacity="0.637" filter="url(#b2)"/>
<rect x="456.80" y="259.20" width="13.90" height="3.20" fill="#3cf03c" opacity="0.562" filter="url(#b1)"/>
<rect x="456.80" y="265.20" width="13.90" height="2.00" fill="#33dd33" opacity="0.262" filter="url(#b1)"/>
<rect x="456.80" y="269.60" width="13.90" height="8.00" fill="#0c6a0c" opacity="0.262" filter="url(#b2)"/>
<rect x="479.50" y="242.60" width="17.90" height="15.00" fill="#0a3c0a" opacity="0.450" filter="url(#b2)"/>
<rect x="479.70" y="270.60" width="14.50" height="11.40" fill="#0b500b" opacity="0.540" filter="url(#b2)"/>
<rect x="479.00" y="234.10" width="18.90" height="3.10" fill="#0f800f" opacity="0.332" filter="url(#b1)"/>
<rect x="479.00" y="238.20" width="18.90" height="4.40" fill="#15a015" opacity="0.522" filter="url(#b1)"/>
<rect x="479.10" y="236.40" width="18.70" height="2.40" fill="#3cff3c" opacity="0.950" filter="url(#b0)"/>
<rect x="479.20" y="258.60" width="15.50" height="11.00" fill="#1cb81c" opacity="0.680" filter="url(#b2)"/>
<rect x="479.50" y="259.20" width="14.90" height="3.20" fill="#3cf03c" opacity="0.600" filter="url(#b1)"/>
<rect x="479.50" y="265.20" width="14.90" height="2.00" fill="#33dd33" opacity="0.280" filter="url(#b1)"/>
<rect x="479.50" y="269.60" width="14.90" height="8.00" fill="#0c6a0c" opacity="0.280" filter="url(#b2)"/>
<rect x="502.20" y="242.60" width="18.00" height="15.00" fill="#0a3c0a" opacity="0.450" filter="url(#b2)"/>
<rect x="502.40" y="270.60" width="14.60" height="11.40" fill="#0b500b" opacity="0.555" filter="url(#b2)"/>
<rect x="501.70" y="234.10" width="19.00" height="3.10" fill="#0f800f" opacity="0.280" filter="url(#b1)"/>
<rect x="501.70" y="238.20" width="19.00" height="4.40" fill="#15a015" opacity="0.440" filter="url(#b1)"/>
<rect x="501.80" y="236.40" width="18.80" height="2.40" fill="#3cff3c" opacity="0.800" filter="url(#b0)"/>
<rect x="501.90" y="258.60" width="15.60" height="11.00" fill="#1cb81c" opacity="0.722" filter="url(#b2)"/>
<rect x="502.20" y="259.20" width="15.00" height="3.20" fill="#3cf03c" opacity="0.637" filter="url(#b1)"/>
<rect x="502.20" y="265.20" width="15.00" height="2.00" fill="#33dd33" opacity="0.297" filter="url(#b1)"/>
<rect x="502.20" y="269.60" width="15.00" height="8.00" fill="#0c6a0c" opacity="0.297" filter="url(#b2)"/>
<rect x="524.60" y="242.60" width="17.80" height="15.00" fill="#0a3c0a" opacity="0.450" filter="url(#b2)"/>
<rect x="524.80" y="270.60" width="14.40" height="11.40" fill="#0b500b" opacity="0.525" filter="url(#b2)"/>
<rect x="524.10" y="234.10" width="18.80" height="3.10" fill="#0f800f" opacity="0.245" filter="url(#b1)"/>
<rect x="524.10" y="238.20" width="18.80" height="4.40" fill="#15a015" opacity="0.385" filter="url(#b1)"/>
<rect x="524.20" y="236.40" width="18.60" height="2.40" fill="#3cff3c" opacity="0.700" filter="url(#b0)"/>
<rect x="524.30" y="258.60" width="15.40" height="11.00" fill="#1cb81c" opacity="0.637" filter="url(#b2)"/>
<rect x="524.60" y="259.20" width="14.80" height="3.20" fill="#3cf03c" opacity="0.562" filter="url(#b1)"/>
<rect x="524.60" y="265.20" width="14.80" height="2.00" fill="#33dd33" opacity="0.262" filter="url(#b1)"/>
<rect x="524.60" y="269.60" width="14.80" height="8.00" fill="#0c6a0c" opacity="0.262" filter="url(#b2)"/>
<rect x="546.70" y="242.60" width="19.50" height="15.00" fill="#0a3c0a" opacity="0.450" filter="url(#b2)"/>
<rect x="546.90" y="270.60" width="16.10" height="11.40" fill="#0b500b" opacity="0.585" filter="url(#b2)"/>
<rect x="546.20" y="234.10" width="20.50" height="3.10" fill="#0f800f" opacity="0.350" filter="url(#b1)"/>
<rect x="546.20" y="238.20" width="20.50" height="4.40" fill="#15a015" opacity="0.550" filter="url(#b1)"/>
<rect x="546.30" y="236.40" width="20.30" height="2.40" fill="#3cff3c" opacity="1.000" filter="url(#b0)"/>
<rect x="546.40" y="258.60" width="17.10" height="11.00" fill="#1cb81c" opacity="0.807" filter="url(#b2)"/>
<rect x="546.70" y="259.20" width="16.50" height="3.20" fill="#3cf03c" opacity="0.712" filter="url(#b1)"/>
<rect x="546.70" y="265.20" width="16.50" height="2.00" fill="#33dd33" opacity="0.332" filter="url(#b1)"/>
<rect x="546.70" y="269.60" width="16.50" height="8.00" fill="#0c6a0c" opacity="0.332" filter="url(#b2)"/>
<rect x="569.70" y="242.60" width="19.50" height="15.00" fill="#0a3c0a" opacity="0.450" filter="url(#b2)"/>
<rect x="569.90" y="270.60" width="16.10" height="11.40" fill="#0b500b" opacity="0.570" filter="url(#b2)"/>
<rect x="569.20" y="234.10" width="20.50" height="3.10" fill="#0f800f" opacity="0.297" filter="url(#b1)"/>
<rect x="569.20" y="238.20" width="20.50" height="4.40" fill="#15a015" opacity="0.468" filter="url(#b1)"/>
<rect x="569.30" y="236.40" width="20.30" height="2.40" fill="#3cff3c" opacity="0.850" filter="url(#b0)"/>
<rect x="569.40" y="258.60" width="17.10" height="11.00" fill="#1cb81c" opacity="0.765" filter="url(#b2)"/>
<rect x="569.70" y="259.20" width="16.50" height="3.20" fill="#3cf03c" opacity="0.675" filter="url(#b1)"/>
<rect x="569.70" y="265.20" width="16.50" height="2.00" fill="#33dd33" opacity="0.315" filter="url(#b1)"/>
<rect x="569.70" y="269.60" width="16.50" height="8.00" fill="#0c6a0c" opacity="0.315" filter="url(#b2)"/>
<rect x="593.40" y="242.60" width="18.70" height="15.00" fill="#0a3c0a" opacity="0.450" filter="url(#b2)"/>
<rect x="593.60" y="270.60" width="15.30" height="11.40" fill="#0b500b" opacity="0.600" filter="url(#b2)"/>
<rect x="592.90" y="234.10" width="19.70" height="3.10" fill="#0f800f" opacity="0.280" filter="url(#b1)"/>
<rect x="592.90" y="238.20" width="19.70" height="4.40" fill="#15a015" opacity="0.440" filter="url(#b1)"/>
<rect x="593.00" y="236.40" width="19.50" height="2.40" fill="#3cff3c" opacity="0.800" filter="url(#b0)"/>
<rect x="593.10" y="258.60" width="16.30" height="11.00" fill="#1cb81c" opacity="0.850" filter="url(#b2)"/>
<rect x="593.40" y="259.20" width="15.70" height="3.20" fill="#3cf03c" opacity="0.750" filter="url(#b1)"/>
<rect x="593.40" y="265.20" width="15.70" height="2.00" fill="#33dd33" opacity="0.350" filter="url(#b1)"/>
<rect x="593.40" y="269.60" width="15.70" height="8.00" fill="#0c6a0c" opacity="0.350" filter="url(#b2)"/>
</g>
<clipPath id="clip_bC"><rect x="89.2" y="574.0" width="199.40" height="55.40"/></clipPath>
<rect x="89.2" y="574.0" width="199.40" height="55.40" fill="#000"/>
<g clip-path="url(#clip_bC)">
<rect x="93.50" y="589.00" width="18.10" height="7.00" fill="#16a016" opacity="0.550" filter="url(#b2)"/>
<rect x="94.00" y="596.00" width="17.10" height="18.00" fill="#0a4a0a" opacity="0.300" filter="url(#b2)"/>
<rect x="92.50" y="615.50" width="18.10" height="10.50" fill="#139c13" opacity="0.450" filter="url(#b2)"/>
<rect x="118.10" y="597.00" width="19.20" height="17.00" fill="#0a4a0a" opacity="0.320" filter="url(#b2)"/>
<rect x="117.30" y="587.50" width="20.80" height="6.50" fill="#18a818" opacity="0.500" filter="url(#b1)"/>
<rect x="117.80" y="592.80" width="19.80" height="2.60" fill="#3cff3c" opacity="0.950" filter="url(#b1)"/>
<rect x="117.30" y="615.00" width="20.80" height="11.00" fill="#18a818" opacity="0.620" filter="url(#b1)"/>
<rect x="117.80" y="615.80" width="19.80" height="2.20" fill="#33dd33" opacity="0.500" filter="url(#b1)"/>
<rect x="142.70" y="597.00" width="19.30" height="17.00" fill="#0a4a0a" opacity="0.320" filter="url(#b2)"/>
<rect x="141.90" y="587.50" width="20.90" height="6.50" fill="#18a818" opacity="0.500" filter="url(#b1)"/>
<rect x="142.40" y="592.80" width="19.90" height="2.60" fill="#3cff3c" opacity="0.950" filter="url(#b1)"/>
<rect x="141.90" y="615.00" width="20.90" height="11.00" fill="#18a818" opacity="0.620" filter="url(#b1)"/>
<rect x="142.40" y="615.80" width="19.90" height="2.20" fill="#33dd33" opacity="0.500" filter="url(#b1)"/>
<rect x="168.40" y="597.00" width="19.80" height="17.00" fill="#0a4a0a" opacity="0.320" filter="url(#b2)"/>
<rect x="167.60" y="587.50" width="21.40" height="6.50" fill="#18a818" opacity="0.500" filter="url(#b1)"/>
<rect x="168.10" y="592.80" width="20.40" height="2.60" fill="#3cff3c" opacity="0.950" filter="url(#b1)"/>
<rect x="167.60" y="615.00" width="21.40" height="11.00" fill="#18a818" opacity="0.620" filter="url(#b1)"/>
<rect x="168.10" y="615.80" width="20.40" height="2.20" fill="#33dd33" opacity="0.500" filter="url(#b1)"/>
<rect x="190.20" y="574.00" width="2.40" height="55.40" fill="#000" opacity="1.000"/>
<rect x="194.00" y="576.00" width="18.40" height="27.00" fill="#16a016" opacity="0.450" filter="url(#b2)"/>
<rect x="194.00" y="585.50" width="18.40" height="9.00" fill="#2ee02e" opacity="0.750" filter="url(#b2)"/>
<rect x="194.50" y="603.00" width="17.40" height="26.40" fill="#0a4a0a" opacity="0.450" filter="url(#b2)"/>
<rect x="194.00" y="611.00" width="18.40" height="9.00" fill="#0e6e0e" opacity="0.500" filter="url(#b2)"/>
<rect x="217.70" y="575.00" width="19.90" height="19.00" fill="#149a14" opacity="0.720" filter="url(#b2)"/>
<rect x="217.70" y="589.50" width="19.90" height="6.50" fill="#22cc22" opacity="0.700" filter="url(#b1)"/>
<rect x="218.20" y="594.80" width="18.90" height="2.40" fill="#44ff44" opacity="1.000" filter="url(#b0)"/>
<rect x="218.20" y="598.00" width="18.90" height="31.40" fill="#0c5e0c" opacity="0.550" filter="url(#b2)"/>
<rect x="217.70" y="610.00" width="19.90" height="10.00" fill="#0f780f" opacity="0.500" filter="url(#b2)"/>
<rect x="241.00" y="575.00" width="19.90" height="19.00" fill="#149a14" opacity="0.720" filter="url(#b2)"/>
<rect x="241.00" y="589.50" width="19.90" height="6.50" fill="#22cc22" opacity="0.700" filter="url(#b1)"/>
<rect x="241.50" y="594.80" width="18.90" height="2.40" fill="#44ff44" opacity="1.000" filter="url(#b0)"/>
<rect x="241.50" y="598.00" width="18.90" height="31.40" fill="#0c5e0c" opacity="0.550" filter="url(#b2)"/>
<rect x="241.00" y="610.00" width="19.90" height="10.00" fill="#0f780f" opacity="0.500" filter="url(#b2)"/>
<rect x="264.40" y="575.00" width="18.70" height="19.00" fill="#149a14" opacity="0.720" filter="url(#b2)"/>
<rect x="264.40" y="589.50" width="18.70" height="6.50" fill="#22cc22" opacity="0.700" filter="url(#b1)"/>
<rect x="264.90" y="594.80" width="17.70" height="2.40" fill="#44ff44" opacity="1.000" filter="url(#b0)"/>
<rect x="264.90" y="598.00" width="17.70" height="31.40" fill="#0c5e0c" opacity="0.550" filter="url(#b2)"/>
<rect x="264.40" y="610.00" width="18.70" height="10.00" fill="#0f780f" opacity="0.500" filter="url(#b2)"/>
</g>
<clipPath id="clip_bD"><rect x="387.0" y="574.1" width="198.70" height="54.90"/></clipPath>
<rect x="387.0" y="574.1" width="198.70" height="54.90" fill="#000"/>
<g clip-path="url(#clip_bD)">
<rect x="391.30" y="593.50" width="21.50" height="20.10" fill="#0a420a" opacity="0.350" filter="url(#b2)"/>
<rect x="391.30" y="621.60" width="21.50" height="7.40" fill="#0a420a" opacity="0.400" filter="url(#b2)"/>
<rect x="390.50" y="583.00" width="23.10" height="8.50" fill="#1cb81c" opacity="0.800" filter="url(#b2)"/>
<rect x="391.50" y="587.00" width="21.10" height="4.10" fill="#3cf03c" opacity="0.750" filter="url(#b1)"/>
<rect x="391.50" y="590.10" width="21.10" height="2.00" fill="#55ff55" opacity="0.850" filter="url(#b1)"/>
<rect x="390.50" y="613.10" width="23.10" height="9.00" fill="#1cc01c" opacity="0.595" filter="url(#b2)"/>
<rect x="391.50" y="615.10" width="21.10" height="4.00" fill="#44ff44" opacity="0.385" filter="url(#b1)"/>
<rect x="418.50" y="593.50" width="18.50" height="20.10" fill="#0a420a" opacity="0.350" filter="url(#b2)"/>
<rect x="418.50" y="621.60" width="18.50" height="7.40" fill="#0a420a" opacity="0.400" filter="url(#b2)"/>
<rect x="417.70" y="584.80" width="20.10" height="6.70" fill="#1cb81c" opacity="0.640" filter="url(#b2)"/>
<rect x="418.70" y="587.90" width="18.10" height="3.20" fill="#3cf03c" opacity="0.600" filter="url(#b1)"/>
<rect x="418.70" y="590.10" width="18.10" height="2.00" fill="#55ff55" opacity="0.680" filter="url(#b1)"/>
<rect x="417.70" y="613.10" width="20.10" height="9.00" fill="#1cc01c" opacity="0.552" filter="url(#b2)"/>
<rect x="418.70" y="615.10" width="18.10" height="4.00" fill="#44ff44" opacity="0.358" filter="url(#b1)"/>
<rect x="443.00" y="593.00" width="22.00" height="18.20" fill="#0a420a" opacity="0.350" filter="url(#b2)"/>
<rect x="443.00" y="619.20" width="22.00" height="9.80" fill="#0a420a" opacity="0.400" filter="url(#b2)"/>
<rect x="442.20" y="583.00" width="23.60" height="8.00" fill="#1cb81c" opacity="0.760" filter="url(#b2)"/>
<rect x="443.20" y="586.75" width="21.60" height="3.85" fill="#3cf03c" opacity="0.712" filter="url(#b1)"/>
<rect x="443.20" y="589.60" width="21.60" height="2.00" fill="#55ff55" opacity="0.807" filter="url(#b1)"/>
<rect x="442.20" y="610.70" width="23.60" height="9.00" fill="#1cc01c" opacity="0.722" filter="url(#b2)"/>
<rect x="443.20" y="612.70" width="21.60" height="4.00" fill="#44ff44" opacity="0.468" filter="url(#b1)"/>
<rect x="471.00" y="591.80" width="21.20" height="18.80" fill="#0a420a" opacity="0.350" filter="url(#b2)"/>
<rect x="471.00" y="618.60" width="21.20" height="10.40" fill="#0a420a" opacity="0.400" filter="url(#b2)"/>
<rect x="470.20" y="583.30" width="22.80" height="6.50" fill="#1cb81c" opacity="0.680" filter="url(#b2)"/>
<rect x="471.20" y="586.30" width="20.80" height="3.10" fill="#3cf03c" opacity="0.637" filter="url(#b1)"/>
<rect x="471.20" y="588.40" width="20.80" height="2.00" fill="#55ff55" opacity="0.722" filter="url(#b1)"/>
<rect x="470.20" y="610.10" width="22.80" height="9.00" fill="#1cc01c" opacity="0.722" filter="url(#b2)"/>
<rect x="471.20" y="612.10" width="20.80" height="4.00" fill="#44ff44" opacity="0.468" filter="url(#b1)"/>
<rect x="498.80" y="590.20" width="20.80" height="19.00" fill="#0a420a" opacity="0.350" filter="url(#b2)"/>
<rect x="498.80" y="617.20" width="20.80" height="11.80" fill="#0a420a" opacity="0.400" filter="url(#b2)"/>
<rect x="498.00" y="581.50" width="22.40" height="6.70" fill="#1cb81c" opacity="0.720" filter="url(#b2)"/>
<rect x="499.00" y="584.60" width="20.40" height="3.20" fill="#3cf03c" opacity="0.675" filter="url(#b1)"/>
<rect x="499.00" y="586.80" width="20.40" height="2.00" fill="#55ff55" opacity="0.765" filter="url(#b1)"/>
<rect x="498.00" y="608.70" width="22.40" height="9.00" fill="#1cc01c" opacity="0.637" filter="url(#b2)"/>
<rect x="499.00" y="610.70" width="20.40" height="4.00" fill="#44ff44" opacity="0.413" filter="url(#b1)"/>
<rect x="525.70" y="590.50" width="24.70" height="19.00" fill="#0a420a" opacity="0.350" filter="url(#b2)"/>
<rect x="525.70" y="617.50" width="24.70" height="11.50" fill="#0a420a" opacity="0.400" filter="url(#b2)"/>
<rect x="524.90" y="581.00" width="26.30" height="7.50" fill="#1cb81c" opacity="0.800" filter="url(#b2)"/>
<rect x="525.90" y="584.50" width="24.30" height="3.60" fill="#3cf03c" opacity="0.750" filter="url(#b1)"/>
<rect x="525.90" y="587.10" width="24.30" height="2.00" fill="#55ff55" opacity="0.850" filter="url(#b1)"/>
<rect x="524.90" y="609.00" width="26.30" height="9.00" fill="#1cc01c" opacity="0.722" filter="url(#b2)"/>
<rect x="525.90" y="611.00" width="24.30" height="4.00" fill="#44ff44" opacity="0.468" filter="url(#b1)"/>
<rect x="554.10" y="590.00" width="23.90" height="19.00" fill="#0a420a" opacity="0.350" filter="url(#b2)"/>
<rect x="554.10" y="617.00" width="23.90" height="12.00" fill="#0a420a" opacity="0.400" filter="url(#b2)"/>
<rect x="553.30" y="581.50" width="25.50" height="6.50" fill="#1cb81c" opacity="0.680" filter="url(#b2)"/>
<rect x="554.30" y="584.50" width="23.50" height="3.10" fill="#3cf03c" opacity="0.637" filter="url(#b1)"/>
<rect x="554.30" y="586.60" width="23.50" height="2.00" fill="#55ff55" opacity="0.722" filter="url(#b1)"/>
<rect x="553.30" y="608.50" width="25.50" height="9.00" fill="#1cc01c" opacity="0.765" filter="url(#b2)"/>
<rect x="554.30" y="610.50" width="23.50" height="4.00" fill="#44ff44" opacity="0.495" filter="url(#b1)"/>
</g>
<line x1="53.00" y1="715.20" x2="53.00" y2="845.10" stroke="#000" stroke-width="1.6"/>
<line x1="52.20" y1="844.30" x2="142.00" y2="844.30" stroke="#000" stroke-width="1.6"/>
<line x1="47.00" y1="844.30" x2="53.00" y2="844.30" stroke="#000" stroke-width="1.5"/>
<text x="44.80" y="848.00" font-size="10.2" font-weight="bold" text-anchor="end">0</text>
<line x1="47.00" y1="801.43" x2="53.00" y2="801.43" stroke="#000" stroke-width="1.5"/>
<text x="44.80" y="805.13" font-size="10.2" font-weight="bold" text-anchor="end">50</text>
<line x1="47.00" y1="758.57" x2="53.00" y2="758.57" stroke="#000" stroke-width="1.5"/>
<text x="44.80" y="762.27" font-size="10.2" font-weight="bold" text-anchor="end">100</text>
<line x1="47.00" y1="715.70" x2="53.00" y2="715.70" stroke="#000" stroke-width="1.5"/>
<text x="44.80" y="719.40" font-size="10.2" font-weight="bold" text-anchor="end">150</text>
<line x1="53.00" y1="844.30" x2="53.00" y2="849.50" stroke="#000" stroke-width="1.5"/>
<text x="53.00" y="862.00" font-size="10.2" font-weight="bold" text-anchor="middle">0</text>
<line x1="67.70" y1="844.30" x2="67.70" y2="849.50" stroke="#000" stroke-width="1.5"/>
<text x="67.70" y="862.00" font-size="10.2" font-weight="bold" text-anchor="middle">10</text>
<line x1="82.40" y1="844.30" x2="82.40" y2="849.50" stroke="#000" stroke-width="1.5"/>
<text x="82.40" y="862.00" font-size="10.2" font-weight="bold" text-anchor="middle">20</text>
<line x1="97.10" y1="844.30" x2="97.10" y2="849.50" stroke="#000" stroke-width="1.5"/>
<text x="97.10" y="862.00" font-size="10.2" font-weight="bold" text-anchor="middle">30</text>
<line x1="111.80" y1="844.30" x2="111.80" y2="849.50" stroke="#000" stroke-width="1.5"/>
<text x="111.80" y="862.00" font-size="10.2" font-weight="bold" text-anchor="middle">40</text>
<line x1="126.50" y1="844.30" x2="126.50" y2="849.50" stroke="#000" stroke-width="1.5"/>
<text x="126.50" y="862.00" font-size="10.2" font-weight="bold" text-anchor="middle">50</text>
<line x1="141.20" y1="844.30" x2="141.20" y2="849.50" stroke="#000" stroke-width="1.5"/>
<text x="141.20" y="862.00" font-size="10.2" font-weight="bold" text-anchor="middle">60</text>
<text x="97.10" y="879.80" font-size="11.6" text-anchor="middle"><tspan font-weight="bold">Time</tspan><tspan fill="#222"> (min)</tspan></text>
<polyline points="53.00,759.68 54.47,762.85 55.94,765.84 57.41,768.66 58.88,771.32 60.35,773.84 61.82,776.21 63.29,778.44 64.76,780.55 66.23,782.55 67.70,784.42 69.17,786.20 70.64,787.87 72.11,789.45 73.58,790.94 75.05,792.34 76.52,793.67 77.99,794.92 79.46,796.10 80.93,797.21 82.40,798.26 83.87,799.25 85.34,800.18 86.81,801.07 88.28,801.90 89.75,802.68 91.22,803.42 92.69,804.12 94.16,804.78 95.63,805.40 97.10,805.99 98.57,806.55 100.04,807.07 101.51,807.56 102.98,808.03 104.45,808.47 105.92,808.88 107.39,809.27 108.86,809.64 110.33,809.99 111.80,810.31 113.27,810.62 114.74,810.92 116.21,811.19 117.68,811.45 119.15,811.70 120.62,811.93 122.09,812.15 123.56,812.35 125.03,812.55 126.50,812.73 127.97,812.90 129.44,813.07 130.91,813.22 132.38,813.37 133.85,813.50 135.32,813.63 136.79,813.76 138.26,813.87 139.73,813.98 141.20,814.08" fill="none" stroke="#c7a7ee" stroke-width="1.05" stroke-linejoin="round"/>
<polyline points="53.00,758.73 54.47,766.46 55.94,773.27 57.41,779.30 58.88,784.61 60.35,789.31 61.82,793.46 63.29,797.12 64.76,800.35 66.23,803.20 67.70,805.72 69.17,807.95 70.64,809.92 72.11,811.65 73.58,813.18 75.05,814.54 76.52,815.73 77.99,816.79 79.46,817.72 80.93,818.54 82.40,819.27 83.87,819.91 85.34,820.48 86.81,820.98 88.28,821.42 89.75,821.81 91.22,822.15 92.69,822.46 94.16,822.73 95.63,822.96 97.10,823.17 98.57,823.36 100.04,823.52 101.51,823.67 102.98,823.79 104.45,823.90 105.92,824.00 107.39,824.09 108.86,824.17 110.33,824.24 111.80,824.30 113.27,824.35 114.74,824.40 116.21,824.44 117.68,824.48 119.15,824.51 120.62,824.54 122.09,824.56 123.56,824.59 125.03,824.60 126.50,824.62 127.97,824.64 129.44,824.65 130.91,824.66 132.38,824.67 133.85,824.68 135.32,824.69 136.79,824.70 138.26,824.71 139.73,824.71 141.20,824.72" fill="none" stroke="#9b6ad6" stroke-width="1.05" stroke-linejoin="round"/>
<polyline points="53.00,758.74 54.47,760.99 55.94,763.15 57.41,765.23 58.88,767.23 60.35,769.15 61.82,771.00 63.29,772.78 64.76,774.49 66.23,776.13 67.70,777.71 69.17,779.23 70.64,780.70 72.11,782.10 73.58,783.46 75.05,784.76 76.52,786.01 77.99,787.21 79.46,788.37 80.93,789.48 82.40,790.56 83.87,791.59 85.34,792.58 86.81,793.53 88.28,794.45 89.75,795.33 91.22,796.17 92.69,796.99 94.16,797.77 95.63,798.53 97.10,799.25 98.57,799.95 100.04,800.62 101.51,801.27 102.98,801.89 104.45,802.48 105.92,803.06 107.39,803.61 108.86,804.14 110.33,804.65 111.80,805.14 113.27,805.61 114.74,806.07 116.21,806.50 117.68,806.92 119.15,807.33 120.62,807.72 122.09,808.09 123.56,808.45 125.03,808.79 126.50,809.13 127.97,809.45 129.44,809.75 130.91,810.05 132.38,810.33 133.85,810.61 135.32,810.87 136.79,811.12 138.26,811.37 139.73,811.60 141.20,811.83" fill="none" stroke="#3d7a4c" stroke-width="1.05" stroke-linejoin="round"/>
<rect x="50.50" y="756.07" width="5.00" height="5.00" fill="#c7a7ee"/>
<line x1="67.70" y1="784.97" x2="67.70" y2="790.12" stroke="#c7a7ee" stroke-width="1.1"/>
<line x1="64.40" y1="784.97" x2="71.00" y2="784.97" stroke="#c7a7ee" stroke-width="1.1"/>
<line x1="64.40" y1="790.12" x2="71.00" y2="790.12" stroke="#c7a7ee" stroke-width="1.1"/>
<rect x="65.20" y="785.05" width="5.00" height="5.00" fill="#c7a7ee"/>
<line x1="97.10" y1="798.09" x2="97.10" y2="805.81" stroke="#c7a7ee" stroke-width="1.1"/>
<line x1="93.80" y1="798.09" x2="100.40" y2="798.09" stroke="#c7a7ee" stroke-width="1.1"/>
<line x1="93.80" y1="805.81" x2="100.40" y2="805.81" stroke="#c7a7ee" stroke-width="1.1"/>
<rect x="94.60" y="799.45" width="5.00" height="5.00" fill="#c7a7ee"/>
<line x1="141.20" y1="808.29" x2="141.20" y2="822.87" stroke="#c7a7ee" stroke-width="1.1"/>
<line x1="137.90" y1="808.29" x2="144.50" y2="808.29" stroke="#c7a7ee" stroke-width="1.1"/>
<line x1="137.90" y1="822.87" x2="144.50" y2="822.87" stroke="#c7a7ee" stroke-width="1.1"/>
<rect x="138.70" y="813.08" width="5.00" height="5.00" fill="#c7a7ee"/>
<path d="M53.00,755.42L55.88,760.67L50.12,760.67Z" fill="#9b6ad6"/>
<line x1="67.70" y1="799.72" x2="67.70" y2="813.44" stroke="#9b6ad6" stroke-width="1.1"/>
<line x1="64.40" y1="799.72" x2="71.00" y2="799.72" stroke="#9b6ad6" stroke-width="1.1"/>
<line x1="64.40" y1="813.44" x2="71.00" y2="813.44" stroke="#9b6ad6" stroke-width="1.1"/>
<path d="M67.70,803.43L70.58,808.68L64.83,808.68Z" fill="#9b6ad6"/>
<line x1="97.10" y1="811.38" x2="97.10" y2="827.84" stroke="#9b6ad6" stroke-width="1.1"/>
<line x1="93.80" y1="811.38" x2="100.40" y2="811.38" stroke="#9b6ad6" stroke-width="1.1"/>
<line x1="93.80" y1="827.84" x2="100.40" y2="827.84" stroke="#9b6ad6" stroke-width="1.1"/>
<path d="M97.10,816.46L99.97,821.71L94.22,821.71Z" fill="#9b6ad6"/>
<line x1="141.20" y1="821.41" x2="141.20" y2="834.61" stroke="#9b6ad6" stroke-width="1.1"/>
<line x1="137.90" y1="821.41" x2="144.50" y2="821.41" stroke="#9b6ad6" stroke-width="1.1"/>
<line x1="137.90" y1="834.61" x2="144.50" y2="834.61" stroke="#9b6ad6" stroke-width="1.1"/>
<path d="M141.20,824.86L144.07,830.11L138.32,830.11Z" fill="#9b6ad6"/>
<circle cx="53.00" cy="758.57" r="2.6" fill="#3d7a4c"/>
<line x1="67.70" y1="770.74" x2="67.70" y2="785.49" stroke="#3d7a4c" stroke-width="1.1"/>
<line x1="64.40" y1="770.74" x2="71.00" y2="770.74" stroke="#3d7a4c" stroke-width="1.1"/>
<line x1="64.40" y1="785.49" x2="71.00" y2="785.49" stroke="#3d7a4c" stroke-width="1.1"/>
<circle cx="67.70" cy="778.12" r="2.6" fill="#3d7a4c"/>
<line x1="97.10" y1="793.12" x2="97.10" y2="804.61" stroke="#3d7a4c" stroke-width="1.1"/>
<line x1="93.80" y1="793.12" x2="100.40" y2="793.12" stroke="#3d7a4c" stroke-width="1.1"/>
<line x1="93.80" y1="804.61" x2="100.40" y2="804.61" stroke="#3d7a4c" stroke-width="1.1"/>
<circle cx="97.10" cy="798.86" r="2.6" fill="#3d7a4c"/>
<line x1="141.20" y1="805.72" x2="141.20" y2="818.24" stroke="#3d7a4c" stroke-width="1.1"/>
<line x1="137.90" y1="805.72" x2="144.50" y2="805.72" stroke="#3d7a4c" stroke-width="1.1"/>
<line x1="137.90" y1="818.24" x2="144.50" y2="818.24" stroke="#3d7a4c" stroke-width="1.1"/>
<circle cx="141.20" cy="811.98" r="2.6" fill="#3d7a4c"/>
<rect x="65.30" y="716.40" width="95.50" height="45.80" fill="#fff" stroke="#222" stroke-width="1.1"/>
<line x1="68.80" y1="724.80" x2="84.40" y2="724.80" stroke="#3d7a4c" stroke-width="1.3"/>
<circle cx="76.60" cy="724.80" r="2.6" fill="#3d7a4c"/>
<text x="93.40" y="727.60" font-size="7.9" font-weight="bold" fill="#111">Mature neurons</text>
<line x1="68.80" y1="738.90" x2="84.40" y2="738.90" stroke="#c7a7ee" stroke-width="1.3"/>
<rect x="74.00" y="736.30" width="5.20" height="5.20" fill="#c7a7ee"/>
<text x="93.40" y="741.70" font-size="7.9" font-weight="bold" fill="#111">EACA 2.5 mM</text>
<line x1="68.80" y1="753.40" x2="84.40" y2="753.40" stroke="#9b6ad6" stroke-width="1.3"/>
<path d="M76.60,750.12L79.59,755.58L73.61,755.58Z" fill="#9b6ad6"/>
<text x="93.40" y="756.20" font-size="7.9" font-weight="bold" fill="#111">EACA 25 mM</text>
<text x="0.20" y="721.00" font-size="16.0" font-weight="bold">E.</text>
<text x="0" y="0" font-size="12" font-weight="bold" text-anchor="middle" textLength="81.2" lengthAdjust="spacingAndGlyphs" transform="translate(9.30,779.30) rotate(-90)">sc-tPA / tc-tPA</text>
<text x="0" y="0" font-size="10" text-anchor="middle" fill="#222" textLength="98.6" lengthAdjust="spacingAndGlyphs" transform="translate(21.00,779.00) rotate(-90)">(normalized to control)</text>
<polyline points="145.10,815.60 149.30,815.60 149.30,825.60 145.10,825.60" fill="none" stroke="#000" stroke-width="1.7"/>
<path d="M157.00,813.65L162.80,813.65 M158.45,811.14L161.35,816.16 M158.45,816.16L161.35,811.14" stroke="#000" stroke-width="1.4" stroke-linecap="butt" fill="none"/>
<path d="M157.00,820.80L162.80,820.80 M158.45,818.29L161.35,823.31 M158.45,823.31L161.35,818.29" stroke="#000" stroke-width="1.4" stroke-linecap="butt" fill="none"/>
<path d="M157.00,827.95L162.80,827.95 M158.45,825.44L161.35,830.46 M158.45,830.46L161.35,825.44" stroke="#000" stroke-width="1.4" stroke-linecap="butt" fill="none"/>
<polyline points="165.70,810.80 169.90,810.80 169.90,825.50 165.70,825.50" fill="none" stroke="#000" stroke-width="1.7"/>
<path d="M177.70,807.77L183.50,807.77 M179.15,805.26L182.05,810.29 M179.15,810.29L182.05,805.26" stroke="#000" stroke-width="1.4" stroke-linecap="butt" fill="none"/>
<path d="M177.70,814.92L183.50,814.92 M179.15,812.41L182.05,817.44 M179.15,817.44L182.05,812.41" stroke="#000" stroke-width="1.4" stroke-linecap="butt" fill="none"/>
<path d="M177.70,822.07L183.50,822.07 M179.15,819.56L182.05,824.59 M179.15,824.59L182.05,819.56" stroke="#000" stroke-width="1.4" stroke-linecap="butt" fill="none"/>
<path d="M177.70,829.23L183.50,829.23 M179.15,826.71L182.05,831.74 M179.15,831.74L182.05,826.71" stroke="#000" stroke-width="1.4" stroke-linecap="butt" fill="none"/>
<line x1="239.90" y1="715.20" x2="239.90" y2="845.10" stroke="#000" stroke-width="1.6"/>
<line x1="239.10" y1="844.30" x2="328.90" y2="844.30" stroke="#000" stroke-width="1.6"/>
<line x1="233.90" y1="844.30" x2="239.90" y2="844.30" stroke="#000" stroke-width="1.5"/>
<text x="232.20" y="848.00" font-size="10.2" font-weight="bold" text-anchor="end">0</text>
<line x1="233.90" y1="801.43" x2="239.90" y2="801.43" stroke="#000" stroke-width="1.5"/>
<text x="232.20" y="805.13" font-size="10.2" font-weight="bold" text-anchor="end">50</text>
<line x1="233.90" y1="758.57" x2="239.90" y2="758.57" stroke="#000" stroke-width="1.5"/>
<text x="232.20" y="762.27" font-size="10.2" font-weight="bold" text-anchor="end">100</text>
<line x1="233.90" y1="715.70" x2="239.90" y2="715.70" stroke="#000" stroke-width="1.5"/>
<text x="232.20" y="719.40" font-size="10.2" font-weight="bold" text-anchor="end">150</text>
<line x1="239.90" y1="844.30" x2="239.90" y2="849.50" stroke="#000" stroke-width="1.5"/>
<text x="239.90" y="862.00" font-size="10.2" font-weight="bold" text-anchor="middle">0</text>
<line x1="254.60" y1="844.30" x2="254.60" y2="849.50" stroke="#000" stroke-width="1.5"/>
<text x="254.60" y="862.00" font-size="10.2" font-weight="bold" text-anchor="middle">10</text>
<line x1="269.30" y1="844.30" x2="269.30" y2="849.50" stroke="#000" stroke-width="1.5"/>
<text x="269.30" y="862.00" font-size="10.2" font-weight="bold" text-anchor="middle">20</text>
<line x1="284.00" y1="844.30" x2="284.00" y2="849.50" stroke="#000" stroke-width="1.5"/>
<text x="284.00" y="862.00" font-size="10.2" font-weight="bold" text-anchor="middle">30</text>
<line x1="298.70" y1="844.30" x2="298.70" y2="849.50" stroke="#000" stroke-width="1.5"/>
<text x="298.70" y="862.00" font-size="10.2" font-weight="bold" text-anchor="middle">40</text>
<line x1="313.40" y1="844.30" x2="313.40" y2="849.50" stroke="#000" stroke-width="1.5"/>
<text x="313.40" y="862.00" font-size="10.2" font-weight="bold" text-anchor="middle">50</text>
<line x1="328.10" y1="844.30" x2="328.10" y2="849.50" stroke="#000" stroke-width="1.5"/>
<text x="328.10" y="862.00" font-size="10.2" font-weight="bold" text-anchor="middle">60</text>
<text x="284.00" y="879.80" font-size="11.6" text-anchor="middle"><tspan font-weight="bold">Time</tspan><tspan fill="#222"> (min)</tspan></text>
<polyline points="239.90,758.84 241.37,766.09 242.84,772.54 244.31,778.27 245.78,783.36 247.25,787.89 248.72,791.91 250.19,795.49 251.66,798.67 253.13,801.50 254.60,804.01 256.07,806.25 257.54,808.23 259.01,810.00 260.48,811.57 261.95,812.96 263.42,814.21 264.89,815.31 266.36,816.29 267.83,817.16 269.30,817.93 270.77,818.62 272.24,819.24 273.71,819.78 275.18,820.26 276.65,820.69 278.12,821.08 279.59,821.42 281.06,821.72 282.53,821.99 284.00,822.22 285.47,822.44 286.94,822.63 288.41,822.79 289.88,822.94 291.35,823.08 292.82,823.19 294.29,823.30 295.76,823.39 297.23,823.47 298.70,823.55 300.17,823.61 301.64,823.67 303.11,823.72 304.58,823.77 306.05,823.81 307.52,823.85 308.99,823.88 310.46,823.91 311.93,823.93 313.40,823.95 314.87,823.97 316.34,823.99 317.81,824.01 319.28,824.02 320.75,824.04 322.22,824.05 323.69,824.06 325.16,824.07 326.63,824.07 328.10,824.08" fill="none" stroke="#3c8fc2" stroke-width="1.05" stroke-linejoin="round"/>
<polyline points="239.90,758.77 241.37,766.28 242.84,772.92 244.31,778.77 245.78,783.94 247.25,788.50 248.72,792.52 250.19,796.07 251.66,799.21 253.13,801.97 254.60,804.41 256.07,806.56 257.54,808.46 259.01,810.14 260.48,811.62 261.95,812.93 263.42,814.08 264.89,815.10 266.36,816.00 267.83,816.79 269.30,817.49 270.77,818.10 272.24,818.65 273.71,819.13 275.18,819.55 276.65,819.93 278.12,820.26 279.59,820.55 281.06,820.81 282.53,821.03 284.00,821.23 285.47,821.41 286.94,821.57 288.41,821.70 289.88,821.83 291.35,821.93 292.82,822.03 294.29,822.11 295.76,822.19 297.23,822.25 298.70,822.31 300.17,822.36 301.64,822.40 303.11,822.44 304.58,822.48 306.05,822.51 307.52,822.54 308.99,822.56 310.46,822.58 311.93,822.60 313.40,822.62 314.87,822.63 316.34,822.64 317.81,822.65 319.28,822.66 320.75,822.67 322.22,822.68 323.69,822.69 325.16,822.69 326.63,822.70 328.10,822.70" fill="none" stroke="#8fcbea" stroke-width="1.05" stroke-linejoin="round"/>
<polyline points="239.90,758.74 241.37,760.99 242.84,763.15 244.31,765.23 245.78,767.23 247.25,769.15 248.72,771.00 250.19,772.78 251.66,774.49 253.13,776.13 254.60,777.71 256.07,779.23 257.54,780.70 259.01,782.10 260.48,783.46 261.95,784.76 263.42,786.01 264.89,787.21 266.36,788.37 267.83,789.48 269.30,790.56 270.77,791.59 272.24,792.58 273.71,793.53 275.18,794.45 276.65,795.33 278.12,796.17 279.59,796.99 281.06,797.77 282.53,798.53 284.00,799.25 285.47,799.95 286.94,800.62 288.41,801.27 289.88,801.89 291.35,802.48 292.82,803.06 294.29,803.61 295.76,804.14 297.23,804.65 298.70,805.14 300.17,805.61 301.64,806.07 303.11,806.50 304.58,806.92 306.05,807.33 307.52,807.72 308.99,808.09 310.46,808.45 311.93,808.79 313.40,809.13 314.87,809.45 316.34,809.75 317.81,810.05 319.28,810.33 320.75,810.61 322.22,810.87 323.69,811.12 325.16,811.37 326.63,811.60 328.10,811.83" fill="none" stroke="#3d7a4c" stroke-width="1.05" stroke-linejoin="round"/>
<path d="M239.90,755.42L242.78,760.67L237.03,760.67Z" fill="#3c8fc2"/>
<line x1="254.60" y1="800.23" x2="254.60" y2="810.52" stroke="#3c8fc2" stroke-width="1.1"/>
<line x1="251.30" y1="800.23" x2="257.90" y2="800.23" stroke="#3c8fc2" stroke-width="1.1"/>
<line x1="251.30" y1="810.52" x2="257.90" y2="810.52" stroke="#3c8fc2" stroke-width="1.1"/>
<path d="M254.60,802.23L257.48,807.48L251.72,807.48Z" fill="#3c8fc2"/>
<line x1="284.00" y1="806.92" x2="284.00" y2="827.50" stroke="#3c8fc2" stroke-width="1.1"/>
<line x1="280.70" y1="806.92" x2="287.30" y2="806.92" stroke="#3c8fc2" stroke-width="1.1"/>
<line x1="280.70" y1="827.50" x2="287.30" y2="827.50" stroke="#3c8fc2" stroke-width="1.1"/>
<path d="M284.00,814.06L286.88,819.31L281.12,819.31Z" fill="#3c8fc2"/>
<line x1="328.10" y1="821.15" x2="328.10" y2="834.87" stroke="#3c8fc2" stroke-width="1.1"/>
<line x1="324.80" y1="821.15" x2="331.40" y2="821.15" stroke="#3c8fc2" stroke-width="1.1"/>
<line x1="324.80" y1="834.87" x2="331.40" y2="834.87" stroke="#3c8fc2" stroke-width="1.1"/>
<path d="M328.10,824.86L330.98,830.11L325.23,830.11Z" fill="#3c8fc2"/>
<rect x="237.10" y="755.77" width="5.60" height="5.60" fill="#8fcbea"/>
<line x1="254.60" y1="797.15" x2="254.60" y2="813.78" stroke="#8fcbea" stroke-width="1.1"/>
<line x1="251.30" y1="797.15" x2="257.90" y2="797.15" stroke="#8fcbea" stroke-width="1.1"/>
<line x1="251.30" y1="813.78" x2="257.90" y2="813.78" stroke="#8fcbea" stroke-width="1.1"/>
<rect x="251.80" y="802.66" width="5.60" height="5.60" fill="#8fcbea"/>
<line x1="284.00" y1="804.78" x2="284.00" y2="828.78" stroke="#8fcbea" stroke-width="1.1"/>
<line x1="280.70" y1="804.78" x2="287.30" y2="804.78" stroke="#8fcbea" stroke-width="1.1"/>
<line x1="280.70" y1="828.78" x2="287.30" y2="828.78" stroke="#8fcbea" stroke-width="1.1"/>
<rect x="281.20" y="813.98" width="5.60" height="5.60" fill="#8fcbea"/>
<line x1="328.10" y1="817.72" x2="328.10" y2="834.87" stroke="#8fcbea" stroke-width="1.1"/>
<line x1="324.80" y1="817.72" x2="331.40" y2="817.72" stroke="#8fcbea" stroke-width="1.1"/>
<line x1="324.80" y1="834.87" x2="331.40" y2="834.87" stroke="#8fcbea" stroke-width="1.1"/>
<rect x="325.30" y="823.50" width="5.60" height="5.60" fill="#8fcbea"/>
<circle cx="239.90" cy="758.57" r="2.6" fill="#3d7a4c"/>
<line x1="254.60" y1="770.74" x2="254.60" y2="785.49" stroke="#3d7a4c" stroke-width="1.1"/>
<line x1="251.30" y1="770.74" x2="257.90" y2="770.74" stroke="#3d7a4c" stroke-width="1.1"/>
<line x1="251.30" y1="785.49" x2="257.90" y2="785.49" stroke="#3d7a4c" stroke-width="1.1"/>
<circle cx="254.60" cy="778.12" r="2.6" fill="#3d7a4c"/>
<line x1="284.00" y1="793.12" x2="284.00" y2="804.61" stroke="#3d7a4c" stroke-width="1.1"/>
<line x1="280.70" y1="793.12" x2="287.30" y2="793.12" stroke="#3d7a4c" stroke-width="1.1"/>
<line x1="280.70" y1="804.61" x2="287.30" y2="804.61" stroke="#3d7a4c" stroke-width="1.1"/>
<circle cx="284.00" cy="798.86" r="2.6" fill="#3d7a4c"/>
<line x1="328.10" y1="805.72" x2="328.10" y2="818.24" stroke="#3d7a4c" stroke-width="1.1"/>
<line x1="324.80" y1="805.72" x2="331.40" y2="805.72" stroke="#3d7a4c" stroke-width="1.1"/>
<line x1="324.80" y1="818.24" x2="331.40" y2="818.24" stroke="#3d7a4c" stroke-width="1.1"/>
<circle cx="328.10" cy="811.98" r="2.6" fill="#3d7a4c"/>
<rect x="248.00" y="717.00" width="93.70" height="45.30" fill="#fff" stroke="#222" stroke-width="1.1"/>
<line x1="251.60" y1="725.40" x2="267.00" y2="725.40" stroke="#3d7a4c" stroke-width="1.3"/>
<circle cx="259.30" cy="725.40" r="2.6" fill="#3d7a4c"/>
<text x="276.10" y="728.20" font-size="7.9" font-weight="bold" fill="#111">Mature neurons</text>
<line x1="251.60" y1="739.50" x2="267.00" y2="739.50" stroke="#9fd2ee" stroke-width="1.3"/>
<rect x="256.70" y="736.90" width="5.20" height="5.20" fill="#9fd2ee"/>
<text x="276.10" y="742.30" font-size="7.9" font-weight="bold" fill="#111">TXA 2.5 mM</text>
<line x1="251.60" y1="754.00" x2="267.00" y2="754.00" stroke="#3c8fc2" stroke-width="1.3"/>
<path d="M259.30,750.72L262.29,756.18L256.31,756.18Z" fill="#3c8fc2"/>
<text x="276.10" y="756.80" font-size="7.9" font-weight="bold" fill="#111">TXA 25 mM</text>
<text x="185.60" y="721.00" font-size="16.0" font-weight="bold">F.</text>
<text x="0" y="0" font-size="12" font-weight="bold" text-anchor="middle" textLength="81.2" lengthAdjust="spacingAndGlyphs" transform="translate(195.60,779.30) rotate(-90)">sc-tPA / tc-tPA</text>
<text x="0" y="0" font-size="10" text-anchor="middle" fill="#222" textLength="98.5" lengthAdjust="spacingAndGlyphs" transform="translate(207.90,778.90) rotate(-90)">(normalized to control)</text>
<polyline points="332.10,812.30 336.30,812.30 336.30,824.20 332.10,824.20" fill="none" stroke="#000" stroke-width="1.7"/>
<path d="M344.30,808.07L350.10,808.07 M345.75,805.56L348.65,810.59 M345.75,810.59L348.65,805.56" stroke="#000" stroke-width="1.4" stroke-linecap="butt" fill="none"/>
<path d="M344.30,815.22L350.10,815.22 M345.75,812.71L348.65,817.74 M345.75,817.74L348.65,812.71" stroke="#000" stroke-width="1.4" stroke-linecap="butt" fill="none"/>
<path d="M344.30,822.37L350.10,822.37 M345.75,819.86L348.65,824.89 M345.75,824.89L348.65,819.86" stroke="#000" stroke-width="1.4" stroke-linecap="butt" fill="none"/>
<path d="M344.30,829.52L350.10,829.52 M345.75,827.01L348.65,832.04 M345.75,832.04L348.65,827.01" stroke="#000" stroke-width="1.4" stroke-linecap="butt" fill="none"/>
<line x1="406.80" y1="715.20" x2="406.80" y2="845.10" stroke="#000" stroke-width="1.6"/>
<line x1="406.00" y1="844.30" x2="495.80" y2="844.30" stroke="#000" stroke-width="1.6"/>
<line x1="400.80" y1="844.30" x2="406.80" y2="844.30" stroke="#000" stroke-width="1.5"/>
<text x="397.80" y="848.00" font-size="10.2" font-weight="bold" text-anchor="end">0</text>
<line x1="400.80" y1="812.15" x2="406.80" y2="812.15" stroke="#000" stroke-width="1.5"/>
<text x="397.80" y="815.85" font-size="10.2" font-weight="bold" text-anchor="end">50</text>
<line x1="400.80" y1="780.00" x2="406.80" y2="780.00" stroke="#000" stroke-width="1.5"/>
<text x="397.80" y="783.70" font-size="10.2" font-weight="bold" text-anchor="end">100</text>
<line x1="400.80" y1="747.85" x2="406.80" y2="747.85" stroke="#000" stroke-width="1.5"/>
<text x="397.80" y="751.55" font-size="10.2" font-weight="bold" text-anchor="end">150</text>
<line x1="400.80" y1="715.70" x2="406.80" y2="715.70" stroke="#000" stroke-width="1.5"/>
<text x="397.80" y="719.40" font-size="10.2" font-weight="bold" text-anchor="end">200</text>
<line x1="406.80" y1="844.30" x2="406.80" y2="849.50" stroke="#000" stroke-width="1.5"/>
<text x="406.80" y="862.00" font-size="10.2" font-weight="bold" text-anchor="middle">0</text>
<line x1="421.50" y1="844.30" x2="421.50" y2="849.50" stroke="#000" stroke-width="1.5"/>
<text x="421.50" y="862.00" font-size="10.2" font-weight="bold" text-anchor="middle">10</text>
<line x1="436.20" y1="844.30" x2="436.20" y2="849.50" stroke="#000" stroke-width="1.5"/>
<text x="436.20" y="862.00" font-size="10.2" font-weight="bold" text-anchor="middle">20</text>
<line x1="450.90" y1="844.30" x2="450.90" y2="849.50" stroke="#000" stroke-width="1.5"/>
<text x="450.90" y="862.00" font-size="10.2" font-weight="bold" text-anchor="middle">30</text>
<line x1="465.60" y1="844.30" x2="465.60" y2="849.50" stroke="#000" stroke-width="1.5"/>
<text x="465.60" y="862.00" font-size="10.2" font-weight="bold" text-anchor="middle">40</text>
<line x1="480.30" y1="844.30" x2="480.30" y2="849.50" stroke="#000" stroke-width="1.5"/>
<text x="480.30" y="862.00" font-size="10.2" font-weight="bold" text-anchor="middle">50</text>
<line x1="495.00" y1="844.30" x2="495.00" y2="849.50" stroke="#000" stroke-width="1.5"/>
<text x="495.00" y="862.00" font-size="10.2" font-weight="bold" text-anchor="middle">60</text>
<text x="450.90" y="879.80" font-size="11.6" font-weight="bold" text-anchor="middle">Time (min)</text>
<polyline points="406.80,780.00 408.27,775.34 409.74,771.98 411.21,769.55 412.68,767.79 414.15,766.52 415.62,765.61 417.09,764.94 418.56,764.46 420.03,764.12 421.50,763.87 422.97,763.69 424.44,763.56 425.91,763.46 427.38,763.40 428.85,763.35 430.32,763.31 431.79,763.28 433.26,763.27 434.73,763.25 436.20,763.24 437.67,763.24 439.14,763.23 440.61,763.23 442.08,763.22 443.55,763.22 445.02,763.22 446.49,763.22 447.96,763.22 449.43,763.22 450.90,763.22 452.37,763.22 453.84,763.22 455.31,763.22 456.78,763.22 458.25,763.22 459.72,763.22 461.19,763.22 462.66,763.22 464.13,763.22 465.60,763.22 467.07,763.22 468.54,763.22 470.01,763.22 471.48,763.22 472.95,763.22 474.42,763.22 475.89,763.22 477.36,763.22 478.83,763.22 480.30,763.22 481.77,763.22 483.24,763.22 484.71,763.22 486.18,763.22 487.65,763.22 489.12,763.22 490.59,763.22 492.06,763.22 493.53,763.22 495.00,763.22" fill="none" stroke="#d81b7c" stroke-width="1.05" stroke-linejoin="round"/>
<polyline points="406.80,780.64 408.27,781.83 409.74,782.97 411.21,784.07 412.68,785.13 414.15,786.16 415.62,787.15 417.09,788.11 418.56,789.03 420.03,789.92 421.50,790.78 422.97,791.61 424.44,792.42 425.91,793.19 427.38,793.94 428.85,794.66 430.32,795.35 431.79,796.02 433.26,796.67 434.73,797.30 436.20,797.90 437.67,798.49 439.14,799.05 440.61,799.59 442.08,800.12 443.55,800.62 445.02,801.11 446.49,801.59 447.96,802.04 449.43,802.48 450.90,802.90 452.37,803.31 453.84,803.71 455.31,804.09 456.78,804.46 458.25,804.82 459.72,805.16 461.19,805.49 462.66,805.81 464.13,806.12 465.60,806.42 467.07,806.70 468.54,806.98 470.01,807.25 471.48,807.51 472.95,807.76 474.42,808.00 475.89,808.23 477.36,808.46 478.83,808.67 480.30,808.88 481.77,809.09 483.24,809.28 484.71,809.47 486.18,809.65 487.65,809.83 489.12,810.00 490.59,810.16 492.06,810.32 493.53,810.47 495.00,810.62" fill="none" stroke="#3d7a4c" stroke-width="1.05" stroke-linejoin="round"/>
<rect x="404.10" y="777.30" width="5.40" height="5.40" fill="#d81b7c"/>
<line x1="421.50" y1="742.00" x2="421.50" y2="785.72" stroke="#d81b7c" stroke-width="1.1"/>
<line x1="418.20" y1="742.00" x2="424.80" y2="742.00" stroke="#d81b7c" stroke-width="1.1"/>
<line x1="418.20" y1="785.72" x2="424.80" y2="785.72" stroke="#d81b7c" stroke-width="1.1"/>
<rect x="418.80" y="761.16" width="5.40" height="5.40" fill="#d81b7c"/>
<line x1="450.90" y1="741.29" x2="450.90" y2="787.33" stroke="#d81b7c" stroke-width="1.1"/>
<line x1="447.60" y1="741.29" x2="454.20" y2="741.29" stroke="#d81b7c" stroke-width="1.1"/>
<line x1="447.60" y1="787.33" x2="454.20" y2="787.33" stroke="#d81b7c" stroke-width="1.1"/>
<rect x="448.20" y="761.61" width="5.40" height="5.40" fill="#d81b7c"/>
<line x1="495.00" y1="745.86" x2="495.00" y2="778.39" stroke="#d81b7c" stroke-width="1.1"/>
<line x1="491.70" y1="745.86" x2="498.30" y2="745.86" stroke="#d81b7c" stroke-width="1.1"/>
<line x1="491.70" y1="778.39" x2="498.30" y2="778.39" stroke="#d81b7c" stroke-width="1.1"/>
<rect x="492.30" y="759.42" width="5.40" height="5.40" fill="#d81b7c"/>
<circle cx="406.80" cy="780.00" r="2.6" fill="#3d7a4c"/>
<line x1="421.50" y1="787.78" x2="421.50" y2="796.78" stroke="#3d7a4c" stroke-width="1.1"/>
<line x1="418.20" y1="787.78" x2="424.80" y2="787.78" stroke="#3d7a4c" stroke-width="1.1"/>
<line x1="418.20" y1="796.78" x2="424.80" y2="796.78" stroke="#3d7a4c" stroke-width="1.1"/>
<circle cx="421.50" cy="792.28" r="2.6" fill="#3d7a4c"/>
<line x1="450.90" y1="797.04" x2="450.90" y2="806.04" stroke="#3d7a4c" stroke-width="1.1"/>
<line x1="447.60" y1="797.04" x2="454.20" y2="797.04" stroke="#3d7a4c" stroke-width="1.1"/>
<line x1="447.60" y1="806.04" x2="454.20" y2="806.04" stroke="#3d7a4c" stroke-width="1.1"/>
<circle cx="450.90" cy="801.54" r="2.6" fill="#3d7a4c"/>
<line x1="495.00" y1="805.98" x2="495.00" y2="816.27" stroke="#3d7a4c" stroke-width="1.1"/>
<line x1="491.70" y1="805.98" x2="498.30" y2="805.98" stroke="#3d7a4c" stroke-width="1.1"/>
<line x1="491.70" y1="816.27" x2="498.30" y2="816.27" stroke="#3d7a4c" stroke-width="1.1"/>
<circle cx="495.00" cy="811.12" r="2.6" fill="#3d7a4c"/>
<rect x="412.50" y="706.40" width="93.50" height="31.00" fill="#fff" stroke="#222" stroke-width="1.1"/>
<line x1="418.50" y1="715.30" x2="433.70" y2="715.30" stroke="#6f9e79" stroke-width="1.3"/>
<circle cx="426.10" cy="715.30" r="2.6" fill="#6f9e79"/>
<text x="442.60" y="718.10" font-size="7.9" font-weight="bold" fill="#111">Mature neurons</text>
<line x1="418.50" y1="730.20" x2="433.70" y2="730.20" stroke="#d81b7c" stroke-width="1.3"/>
<rect x="423.50" y="727.60" width="5.20" height="5.20" fill="#d81b7c"/>
<text x="442.60" y="733.00" font-size="7.9" font-weight="bold" fill="#111">tPA-ΔK2</text>
<text x="350.60" y="721.00" font-size="16.0" font-weight="bold">G.</text>
<text x="0" y="0" font-size="12" font-weight="bold" text-anchor="middle" textLength="81.2" lengthAdjust="spacingAndGlyphs" transform="translate(363.10,779.30) rotate(-90)">sc-tPA / tc-tPA</text>
<text x="0" y="0" font-size="10" text-anchor="middle" fill="#222" textLength="78.8" lengthAdjust="spacingAndGlyphs" transform="translate(374.50,778.90) rotate(-90)">(in % of total tPA)</text>
<polyline points="500.10,761.80 504.30,761.80 504.30,812.40 500.10,812.40" fill="none" stroke="#000" stroke-width="1.7"/>
<path d="M511.80,776.48L517.60,776.48 M513.25,773.96L516.15,778.99 M513.25,778.99L516.15,773.96" stroke="#000" stroke-width="1.4" stroke-linecap="butt" fill="none"/>
<path d="M511.80,783.62L517.60,783.62 M513.25,781.11L516.15,786.14 M513.25,786.14L516.15,781.11" stroke="#000" stroke-width="1.4" stroke-linecap="butt" fill="none"/>
<path d="M511.80,790.77L517.60,790.77 M513.25,788.26L516.15,793.29 M513.25,793.29L516.15,788.26" stroke="#000" stroke-width="1.4" stroke-linecap="butt" fill="none"/>
<path d="M511.80,797.93L517.60,797.93 M513.25,795.41L516.15,800.44 M513.25,800.44L516.15,795.41" stroke="#000" stroke-width="1.4" stroke-linecap="butt" fill="none"/>
<line x1="574.00" y1="715.20" x2="574.00" y2="845.10" stroke="#000" stroke-width="1.6"/>
<line x1="573.20" y1="844.30" x2="663.00" y2="844.30" stroke="#000" stroke-width="1.6"/>
<line x1="568.00" y1="844.30" x2="574.00" y2="844.30" stroke="#000" stroke-width="1.5"/>
<text x="566.10" y="848.00" font-size="10.2" font-weight="bold" text-anchor="end">0</text>
<line x1="568.00" y1="801.43" x2="574.00" y2="801.43" stroke="#000" stroke-width="1.5"/>
<text x="566.10" y="805.13" font-size="10.2" font-weight="bold" text-anchor="end">50</text>
<line x1="568.00" y1="758.57" x2="574.00" y2="758.57" stroke="#000" stroke-width="1.5"/>
<text x="566.10" y="762.27" font-size="10.2" font-weight="bold" text-anchor="end">100</text>
<line x1="568.00" y1="715.70" x2="574.00" y2="715.70" stroke="#000" stroke-width="1.5"/>
<text x="566.10" y="719.40" font-size="10.2" font-weight="bold" text-anchor="end">150</text>
<line x1="574.00" y1="844.30" x2="574.00" y2="849.50" stroke="#000" stroke-width="1.5"/>
<text x="574.00" y="862.00" font-size="10.2" font-weight="bold" text-anchor="middle">0</text>
<line x1="588.70" y1="844.30" x2="588.70" y2="849.50" stroke="#000" stroke-width="1.5"/>
<text x="588.70" y="862.00" font-size="10.2" font-weight="bold" text-anchor="middle">10</text>
<line x1="603.40" y1="844.30" x2="603.40" y2="849.50" stroke="#000" stroke-width="1.5"/>
<text x="603.40" y="862.00" font-size="10.2" font-weight="bold" text-anchor="middle">20</text>
<line x1="618.10" y1="844.30" x2="618.10" y2="849.50" stroke="#000" stroke-width="1.5"/>
<text x="618.10" y="862.00" font-size="10.2" font-weight="bold" text-anchor="middle">30</text>
<line x1="632.80" y1="844.30" x2="632.80" y2="849.50" stroke="#000" stroke-width="1.5"/>
<text x="632.80" y="862.00" font-size="10.2" font-weight="bold" text-anchor="middle">40</text>
<line x1="647.50" y1="844.30" x2="647.50" y2="849.50" stroke="#000" stroke-width="1.5"/>
<text x="647.50" y="862.00" font-size="10.2" font-weight="bold" text-anchor="middle">50</text>
<line x1="662.20" y1="844.30" x2="662.20" y2="849.50" stroke="#000" stroke-width="1.5"/>
<text x="662.20" y="862.00" font-size="10.2" font-weight="bold" text-anchor="middle">60</text>
<text x="618.10" y="879.80" font-size="11.6" text-anchor="middle"><tspan font-weight="bold">Time</tspan><tspan fill="#222"> (min)</tspan></text>
<polyline points="574.00,756.38 575.47,757.02 576.94,757.65 578.41,758.29 579.88,758.92 581.35,759.56 582.82,760.19 584.29,760.83 585.76,761.46 587.23,762.09 588.70,762.73 590.17,763.36 591.64,764.00 593.11,764.63 594.58,765.27 596.05,765.90 597.52,766.54 598.99,767.17 600.46,767.80 601.93,768.44 603.40,769.07 604.87,769.71 606.34,770.34 607.81,770.98 609.28,771.61 610.75,772.25 612.22,772.88 613.69,773.51 615.16,774.15 616.63,774.78 618.10,775.42 619.57,776.05 621.04,776.69 622.51,777.32 623.98,777.95 625.45,778.59 626.92,779.22 628.39,779.86 629.86,780.49 631.33,781.13 632.80,781.76 634.27,782.40 635.74,783.03 637.21,783.66 638.68,784.30 640.15,784.93 641.62,785.57 643.09,786.20 644.56,786.84 646.03,787.47 647.50,788.10 648.97,788.74 650.44,789.37 651.91,790.01 653.38,790.64 654.85,791.28 656.32,791.91 657.79,792.54 659.26,793.18 660.73,793.81 662.20,794.45" fill="none" stroke="#f7941d" stroke-width="1.05" stroke-linejoin="round"/>
<polyline points="574.00,757.57 575.47,758.77 576.94,759.94 578.41,761.09 579.88,762.22 581.35,763.33 582.82,764.41 584.29,765.47 585.76,766.52 587.23,767.54 588.70,768.54 590.17,769.52 591.64,770.49 593.11,771.43 594.58,772.36 596.05,773.26 597.52,774.15 598.99,775.02 600.46,775.88 601.93,776.72 603.40,777.54 604.87,778.34 606.34,779.13 607.81,779.91 609.28,780.67 610.75,781.41 612.22,782.14 613.69,782.85 615.16,783.56 616.63,784.24 618.10,784.92 619.57,785.58 621.04,786.22 622.51,786.86 623.98,787.48 625.45,788.09 626.92,788.69 628.39,789.27 629.86,789.85 631.33,790.41 632.80,790.96 634.27,791.51 635.74,792.04 637.21,792.56 638.68,793.07 640.15,793.57 641.62,794.06 643.09,794.54 644.56,795.01 646.03,795.47 647.50,795.92 648.97,796.37 650.44,796.80 651.91,797.23 653.38,797.65 654.85,798.06 656.32,798.46 657.79,798.85 659.26,799.24 660.73,799.62 662.20,799.99" fill="none" stroke="#3d7a4c" stroke-width="1.05" stroke-linejoin="round"/>
<rect x="571.30" y="755.87" width="5.40" height="5.40" fill="#f7941d"/>
<line x1="588.70" y1="751.97" x2="588.70" y2="769.63" stroke="#f7941d" stroke-width="1.1"/>
<line x1="585.40" y1="751.97" x2="592.00" y2="751.97" stroke="#f7941d" stroke-width="1.1"/>
<line x1="585.40" y1="769.63" x2="592.00" y2="769.63" stroke="#f7941d" stroke-width="1.1"/>
<rect x="586.00" y="758.10" width="5.40" height="5.40" fill="#f7941d"/>
<line x1="618.10" y1="766.11" x2="618.10" y2="782.40" stroke="#f7941d" stroke-width="1.1"/>
<line x1="614.80" y1="766.11" x2="621.40" y2="766.11" stroke="#f7941d" stroke-width="1.1"/>
<line x1="614.80" y1="782.40" x2="621.40" y2="782.40" stroke="#f7941d" stroke-width="1.1"/>
<rect x="615.40" y="771.56" width="5.40" height="5.40" fill="#f7941d"/>
<line x1="662.20" y1="783.52" x2="662.20" y2="807.18" stroke="#f7941d" stroke-width="1.1"/>
<line x1="658.90" y1="783.52" x2="665.50" y2="783.52" stroke="#f7941d" stroke-width="1.1"/>
<line x1="658.90" y1="807.18" x2="665.50" y2="807.18" stroke="#f7941d" stroke-width="1.1"/>
<rect x="659.50" y="792.65" width="5.40" height="5.40" fill="#f7941d"/>
<circle cx="574.00" cy="758.57" r="2.6" fill="#3d7a4c"/>
<line x1="588.70" y1="763.03" x2="588.70" y2="769.89" stroke="#3d7a4c" stroke-width="1.1"/>
<line x1="585.40" y1="763.03" x2="592.00" y2="763.03" stroke="#3d7a4c" stroke-width="1.1"/>
<line x1="585.40" y1="769.89" x2="592.00" y2="769.89" stroke="#3d7a4c" stroke-width="1.1"/>
<circle cx="588.70" cy="766.46" r="2.6" fill="#3d7a4c"/>
<line x1="618.10" y1="776.57" x2="618.10" y2="796.29" stroke="#3d7a4c" stroke-width="1.1"/>
<line x1="614.80" y1="776.57" x2="621.40" y2="776.57" stroke="#3d7a4c" stroke-width="1.1"/>
<line x1="614.80" y1="796.29" x2="621.40" y2="796.29" stroke="#3d7a4c" stroke-width="1.1"/>
<circle cx="618.10" cy="786.43" r="2.6" fill="#3d7a4c"/>
<line x1="662.20" y1="791.83" x2="662.20" y2="807.26" stroke="#3d7a4c" stroke-width="1.1"/>
<line x1="658.90" y1="791.83" x2="665.50" y2="791.83" stroke="#3d7a4c" stroke-width="1.1"/>
<line x1="658.90" y1="807.26" x2="665.50" y2="807.26" stroke="#3d7a4c" stroke-width="1.1"/>
<circle cx="662.20" cy="799.55" r="2.6" fill="#3d7a4c"/>
<rect x="580.40" y="716.40" width="93.20" height="31.10" fill="#fff" stroke="#222" stroke-width="1.1"/>
<line x1="586.00" y1="725.10" x2="601.60" y2="725.10" stroke="#6f9e79" stroke-width="1.3"/>
<circle cx="593.80" cy="725.10" r="2.6" fill="#6f9e79"/>
<text x="610.00" y="727.90" font-size="7.9" font-weight="bold" fill="#111">Mature neurons</text>
<line x1="586.00" y1="740.30" x2="601.60" y2="740.30" stroke="#f7941d" stroke-width="1.3"/>
<rect x="591.20" y="737.70" width="5.20" height="5.20" fill="#f7941d"/>
<text x="610.00" y="743.10" font-size="7.9" font-weight="bold" fill="#111">CpB</text>
<text x="521.00" y="721.00" font-size="16.0" font-weight="bold">H.</text>
<text x="0" y="0" font-size="12" font-weight="bold" text-anchor="middle" textLength="81.2" lengthAdjust="spacingAndGlyphs" transform="translate(530.40,779.30) rotate(-90)">sc-tPA / tc-tPA</text>
<text x="0" y="0" font-size="10" text-anchor="middle" fill="#222" textLength="78.8" lengthAdjust="spacingAndGlyphs" transform="translate(541.70,778.90) rotate(-90)">(in % of total tPA)</text>
<polyline points="666.80,794.60 671.00,794.60 671.00,799.80 666.80,799.80" fill="none" stroke="#000" stroke-width="1.7"/>
<path d="M679.50,786.27L685.30,786.27 M680.95,783.76L683.85,788.79 M680.95,788.79L683.85,783.76" stroke="#000" stroke-width="1.4" stroke-linecap="butt" fill="none"/>
<path d="M679.50,793.42L685.30,793.42 M680.95,790.91L683.85,795.94 M680.95,795.94L683.85,790.91" stroke="#000" stroke-width="1.4" stroke-linecap="butt" fill="none"/>
<path d="M679.50,800.57L685.30,800.57 M680.95,798.06L683.85,803.09 M680.95,803.09L683.85,798.06" stroke="#000" stroke-width="1.4" stroke-linecap="butt" fill="none"/>
<path d="M679.50,807.73L685.30,807.73 M680.95,805.21L683.85,810.24 M680.95,810.24L683.85,805.21" stroke="#000" stroke-width="1.4" stroke-linecap="butt" fill="none"/>
</svg>
</body></html>
